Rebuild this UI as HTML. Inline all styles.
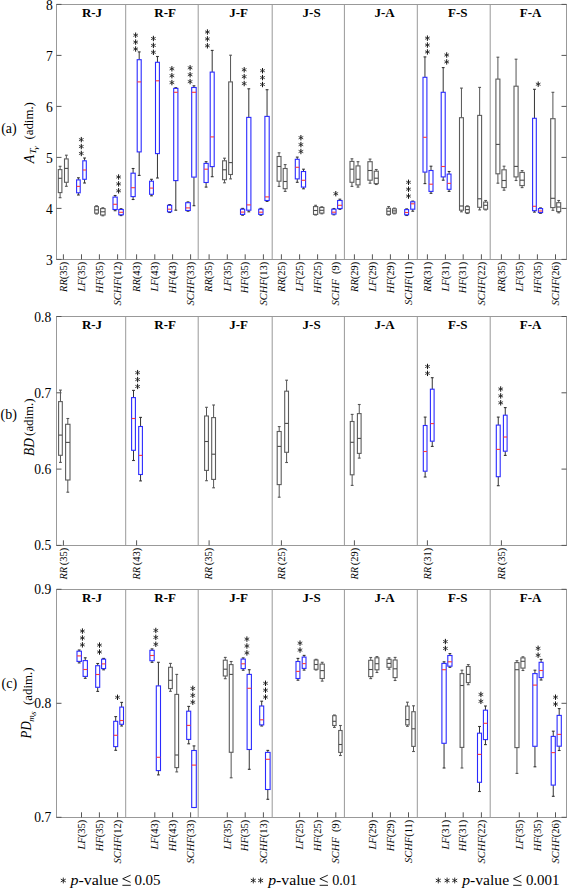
<!DOCTYPE html><html><head><meta charset="utf-8"><title>Box plots</title><style>html,body{margin:0;padding:0;background:#fff;width:568px;height:888px;overflow:hidden}svg{display:block}</style></head><body><svg width="568" height="888" viewBox="0 0 568 888">
<style>text{font-family:"Liberation Serif",serif;fill:#000}.yl{font-size:13.6px;text-anchor:end}.tt{font-size:13px;font-weight:bold;text-anchor:middle}.xl{font-size:10.5px;text-anchor:end}.it{font-style:italic}.lab{font-size:14px}.ax{font-size:13.5px}.ft{font-size:15px}</style>
<rect width="568" height="888" fill="#fff"/>
<rect x="56.5" y="4.5" width="510.0" height="255.0" fill="none" stroke="#999" stroke-width="1"/>
<line x1="125.70" y1="4.50" x2="125.70" y2="259.50" stroke="#999" stroke-width="1.0" />
<line x1="198.20" y1="4.50" x2="198.20" y2="259.50" stroke="#999" stroke-width="1.0" />
<line x1="272.20" y1="4.50" x2="272.20" y2="259.50" stroke="#999" stroke-width="1.0" />
<line x1="344.40" y1="4.50" x2="344.40" y2="259.50" stroke="#999" stroke-width="1.0" />
<line x1="417.30" y1="4.50" x2="417.30" y2="259.50" stroke="#999" stroke-width="1.0" />
<line x1="490.20" y1="4.50" x2="490.20" y2="259.50" stroke="#999" stroke-width="1.0" />
<line x1="56.50" y1="259.40" x2="61.50" y2="259.40" stroke="#555" stroke-width="1.0" />
<line x1="561.50" y1="259.40" x2="566.50" y2="259.40" stroke="#555" stroke-width="1.0" />
<text x="52.7" y="264.80" class="yl">3</text>
<line x1="56.50" y1="208.40" x2="61.50" y2="208.40" stroke="#555" stroke-width="1.0" />
<line x1="561.50" y1="208.40" x2="566.50" y2="208.40" stroke="#555" stroke-width="1.0" />
<text x="52.7" y="213.80" class="yl">4</text>
<line x1="56.50" y1="157.40" x2="61.50" y2="157.40" stroke="#555" stroke-width="1.0" />
<line x1="561.50" y1="157.40" x2="566.50" y2="157.40" stroke="#555" stroke-width="1.0" />
<text x="52.7" y="162.80" class="yl">5</text>
<line x1="56.50" y1="106.40" x2="61.50" y2="106.40" stroke="#555" stroke-width="1.0" />
<line x1="561.50" y1="106.40" x2="566.50" y2="106.40" stroke="#555" stroke-width="1.0" />
<text x="52.7" y="111.80" class="yl">6</text>
<line x1="56.50" y1="55.40" x2="61.50" y2="55.40" stroke="#555" stroke-width="1.0" />
<line x1="561.50" y1="55.40" x2="566.50" y2="55.40" stroke="#555" stroke-width="1.0" />
<text x="52.7" y="60.80" class="yl">7</text>
<line x1="56.50" y1="4.40" x2="61.50" y2="4.40" stroke="#555" stroke-width="1.0" />
<line x1="561.50" y1="4.40" x2="566.50" y2="4.40" stroke="#555" stroke-width="1.0" />
<text x="52.7" y="9.80" class="yl">8</text>
<text x="92.0" y="16.6" class="tt">R-J</text>
<text x="165.2" y="16.6" class="tt">R-F</text>
<text x="238.6" y="16.6" class="tt">J-F</text>
<text x="311.6" y="16.6" class="tt">J-S</text>
<text x="384.6" y="16.6" class="tt">J-A</text>
<text x="457.7" y="16.6" class="tt">F-S</text>
<text x="530.6" y="16.6" class="tt">F-A</text>
<rect x="56.5" y="316.5" width="510.0" height="229.0" fill="none" stroke="#999" stroke-width="1"/>
<line x1="125.70" y1="316.50" x2="125.70" y2="545.50" stroke="#999" stroke-width="1.0" />
<line x1="198.20" y1="316.50" x2="198.20" y2="545.50" stroke="#999" stroke-width="1.0" />
<line x1="272.20" y1="316.50" x2="272.20" y2="545.50" stroke="#999" stroke-width="1.0" />
<line x1="344.40" y1="316.50" x2="344.40" y2="545.50" stroke="#999" stroke-width="1.0" />
<line x1="417.30" y1="316.50" x2="417.30" y2="545.50" stroke="#999" stroke-width="1.0" />
<line x1="490.20" y1="316.50" x2="490.20" y2="545.50" stroke="#999" stroke-width="1.0" />
<line x1="56.50" y1="545.40" x2="61.50" y2="545.40" stroke="#555" stroke-width="1.0" />
<line x1="561.50" y1="545.40" x2="566.50" y2="545.40" stroke="#555" stroke-width="1.0" />
<text x="51.2" y="550.40" class="yl">0.5</text>
<line x1="56.50" y1="469.10" x2="61.50" y2="469.10" stroke="#555" stroke-width="1.0" />
<line x1="561.50" y1="469.10" x2="566.50" y2="469.10" stroke="#555" stroke-width="1.0" />
<text x="51.2" y="474.10" class="yl">0.6</text>
<line x1="56.50" y1="392.80" x2="61.50" y2="392.80" stroke="#555" stroke-width="1.0" />
<line x1="561.50" y1="392.80" x2="566.50" y2="392.80" stroke="#555" stroke-width="1.0" />
<text x="51.2" y="397.80" class="yl">0.7</text>
<line x1="56.50" y1="316.50" x2="61.50" y2="316.50" stroke="#555" stroke-width="1.0" />
<line x1="561.50" y1="316.50" x2="566.50" y2="316.50" stroke="#555" stroke-width="1.0" />
<text x="51.2" y="321.50" class="yl">0.8</text>
<text x="92.0" y="328.6" class="tt">R-J</text>
<text x="165.2" y="328.6" class="tt">R-F</text>
<text x="238.6" y="328.6" class="tt">J-F</text>
<text x="311.6" y="328.6" class="tt">J-S</text>
<text x="384.6" y="328.6" class="tt">J-A</text>
<text x="457.7" y="328.6" class="tt">F-S</text>
<text x="530.6" y="328.6" class="tt">F-A</text>
<rect x="56.5" y="589.5" width="510.0" height="228.0" fill="none" stroke="#999" stroke-width="1"/>
<line x1="125.70" y1="589.50" x2="125.70" y2="817.50" stroke="#999" stroke-width="1.0" />
<line x1="198.20" y1="589.50" x2="198.20" y2="817.50" stroke="#999" stroke-width="1.0" />
<line x1="272.20" y1="589.50" x2="272.20" y2="817.50" stroke="#999" stroke-width="1.0" />
<line x1="344.40" y1="589.50" x2="344.40" y2="817.50" stroke="#999" stroke-width="1.0" />
<line x1="417.30" y1="589.50" x2="417.30" y2="817.50" stroke="#999" stroke-width="1.0" />
<line x1="490.20" y1="589.50" x2="490.20" y2="817.50" stroke="#999" stroke-width="1.0" />
<line x1="56.50" y1="817.30" x2="61.50" y2="817.30" stroke="#555" stroke-width="1.0" />
<line x1="561.50" y1="817.30" x2="566.50" y2="817.30" stroke="#555" stroke-width="1.0" />
<text x="51.2" y="822.30" class="yl">0.7</text>
<line x1="56.50" y1="703.30" x2="61.50" y2="703.30" stroke="#555" stroke-width="1.0" />
<line x1="561.50" y1="703.30" x2="566.50" y2="703.30" stroke="#555" stroke-width="1.0" />
<text x="51.2" y="708.30" class="yl">0.8</text>
<line x1="56.50" y1="589.30" x2="61.50" y2="589.30" stroke="#555" stroke-width="1.0" />
<line x1="561.50" y1="589.30" x2="566.50" y2="589.30" stroke="#555" stroke-width="1.0" />
<text x="51.2" y="594.30" class="yl">0.9</text>
<text x="92.0" y="601.6" class="tt">R-J</text>
<text x="165.2" y="601.6" class="tt">R-F</text>
<text x="238.6" y="601.6" class="tt">J-F</text>
<text x="311.6" y="601.6" class="tt">J-S</text>
<text x="384.6" y="601.6" class="tt">J-A</text>
<text x="457.7" y="601.6" class="tt">F-S</text>
<text x="530.6" y="601.6" class="tt">F-A</text>
<line x1="63.40" y1="254.30" x2="63.40" y2="259.50" stroke="#555" stroke-width="1.0" />
<line x1="81.50" y1="254.30" x2="81.50" y2="259.50" stroke="#555" stroke-width="1.0" />
<line x1="99.40" y1="254.30" x2="99.40" y2="259.50" stroke="#555" stroke-width="1.0" />
<line x1="117.60" y1="254.30" x2="117.60" y2="259.50" stroke="#555" stroke-width="1.0" />
<line x1="136.60" y1="254.30" x2="136.60" y2="259.50" stroke="#555" stroke-width="1.0" />
<line x1="154.80" y1="254.30" x2="154.80" y2="259.50" stroke="#555" stroke-width="1.0" />
<line x1="172.60" y1="254.30" x2="172.60" y2="259.50" stroke="#555" stroke-width="1.0" />
<line x1="190.60" y1="254.30" x2="190.60" y2="259.50" stroke="#555" stroke-width="1.0" />
<line x1="209.10" y1="254.30" x2="209.10" y2="259.50" stroke="#555" stroke-width="1.0" />
<line x1="227.30" y1="254.30" x2="227.30" y2="259.50" stroke="#555" stroke-width="1.0" />
<line x1="245.20" y1="254.30" x2="245.20" y2="259.50" stroke="#555" stroke-width="1.0" />
<line x1="263.40" y1="254.30" x2="263.40" y2="259.50" stroke="#555" stroke-width="1.0" />
<line x1="281.40" y1="254.30" x2="281.40" y2="259.50" stroke="#555" stroke-width="1.0" />
<line x1="299.60" y1="254.30" x2="299.60" y2="259.50" stroke="#555" stroke-width="1.0" />
<line x1="317.60" y1="254.30" x2="317.60" y2="259.50" stroke="#555" stroke-width="1.0" />
<line x1="335.80" y1="254.30" x2="335.80" y2="259.50" stroke="#555" stroke-width="1.0" />
<line x1="354.40" y1="254.30" x2="354.40" y2="259.50" stroke="#555" stroke-width="1.0" />
<line x1="372.40" y1="254.30" x2="372.40" y2="259.50" stroke="#555" stroke-width="1.0" />
<line x1="390.40" y1="254.30" x2="390.40" y2="259.50" stroke="#555" stroke-width="1.0" />
<line x1="408.50" y1="254.30" x2="408.50" y2="259.50" stroke="#555" stroke-width="1.0" />
<line x1="427.40" y1="254.30" x2="427.40" y2="259.50" stroke="#555" stroke-width="1.0" />
<line x1="445.40" y1="254.30" x2="445.40" y2="259.50" stroke="#555" stroke-width="1.0" />
<line x1="463.20" y1="254.30" x2="463.20" y2="259.50" stroke="#555" stroke-width="1.0" />
<line x1="481.40" y1="254.30" x2="481.40" y2="259.50" stroke="#555" stroke-width="1.0" />
<line x1="501.40" y1="254.30" x2="501.40" y2="259.50" stroke="#555" stroke-width="1.0" />
<line x1="519.30" y1="254.30" x2="519.30" y2="259.50" stroke="#555" stroke-width="1.0" />
<line x1="537.40" y1="254.30" x2="537.40" y2="259.50" stroke="#555" stroke-width="1.0" />
<line x1="555.50" y1="254.30" x2="555.50" y2="259.50" stroke="#555" stroke-width="1.0" />
<line x1="63.40" y1="540.30" x2="63.40" y2="545.50" stroke="#555" stroke-width="1.0" />
<line x1="136.60" y1="540.30" x2="136.60" y2="545.50" stroke="#555" stroke-width="1.0" />
<line x1="209.10" y1="540.30" x2="209.10" y2="545.50" stroke="#555" stroke-width="1.0" />
<line x1="281.40" y1="540.30" x2="281.40" y2="545.50" stroke="#555" stroke-width="1.0" />
<line x1="354.40" y1="540.30" x2="354.40" y2="545.50" stroke="#555" stroke-width="1.0" />
<line x1="427.40" y1="540.30" x2="427.40" y2="545.50" stroke="#555" stroke-width="1.0" />
<line x1="501.40" y1="540.30" x2="501.40" y2="545.50" stroke="#555" stroke-width="1.0" />
<line x1="81.50" y1="812.30" x2="81.50" y2="817.50" stroke="#555" stroke-width="1.0" />
<line x1="99.40" y1="812.30" x2="99.40" y2="817.50" stroke="#555" stroke-width="1.0" />
<line x1="117.60" y1="812.30" x2="117.60" y2="817.50" stroke="#555" stroke-width="1.0" />
<line x1="154.80" y1="812.30" x2="154.80" y2="817.50" stroke="#555" stroke-width="1.0" />
<line x1="172.60" y1="812.30" x2="172.60" y2="817.50" stroke="#555" stroke-width="1.0" />
<line x1="190.60" y1="812.30" x2="190.60" y2="817.50" stroke="#555" stroke-width="1.0" />
<line x1="227.30" y1="812.30" x2="227.30" y2="817.50" stroke="#555" stroke-width="1.0" />
<line x1="245.20" y1="812.30" x2="245.20" y2="817.50" stroke="#555" stroke-width="1.0" />
<line x1="263.40" y1="812.30" x2="263.40" y2="817.50" stroke="#555" stroke-width="1.0" />
<line x1="299.60" y1="812.30" x2="299.60" y2="817.50" stroke="#555" stroke-width="1.0" />
<line x1="317.60" y1="812.30" x2="317.60" y2="817.50" stroke="#555" stroke-width="1.0" />
<line x1="335.80" y1="812.30" x2="335.80" y2="817.50" stroke="#555" stroke-width="1.0" />
<line x1="372.40" y1="812.30" x2="372.40" y2="817.50" stroke="#555" stroke-width="1.0" />
<line x1="390.40" y1="812.30" x2="390.40" y2="817.50" stroke="#555" stroke-width="1.0" />
<line x1="408.50" y1="812.30" x2="408.50" y2="817.50" stroke="#555" stroke-width="1.0" />
<line x1="445.40" y1="812.30" x2="445.40" y2="817.50" stroke="#555" stroke-width="1.0" />
<line x1="463.20" y1="812.30" x2="463.20" y2="817.50" stroke="#555" stroke-width="1.0" />
<line x1="481.40" y1="812.30" x2="481.40" y2="817.50" stroke="#555" stroke-width="1.0" />
<line x1="519.30" y1="812.30" x2="519.30" y2="817.50" stroke="#555" stroke-width="1.0" />
<line x1="537.40" y1="812.30" x2="537.40" y2="817.50" stroke="#555" stroke-width="1.0" />
<line x1="555.50" y1="812.30" x2="555.50" y2="817.50" stroke="#555" stroke-width="1.0" />
<line x1="60.10" y1="166.30" x2="60.10" y2="169.60" stroke="#555" stroke-width="1.0" />
<line x1="60.10" y1="192.60" x2="60.10" y2="197.70" stroke="#555" stroke-width="1.0" />
<line x1="58.70" y1="166.30" x2="61.50" y2="166.30" stroke="#555" stroke-width="1.1" />
<line x1="58.70" y1="197.70" x2="61.50" y2="197.70" stroke="#555" stroke-width="1.1" />
<rect x="58.30" y="169.60" width="3.60" height="23.00" fill="#fff" stroke="#5c5c5c" stroke-width="1.1"/>
<line x1="58.40" y1="178.30" x2="61.80" y2="178.30" stroke="#4a4a4a" stroke-width="1.1" />
<line x1="66.35" y1="155.20" x2="66.35" y2="158.90" stroke="#555" stroke-width="1.0" />
<line x1="66.35" y1="182.30" x2="66.35" y2="186.30" stroke="#555" stroke-width="1.0" />
<line x1="64.95" y1="155.20" x2="67.75" y2="155.20" stroke="#555" stroke-width="1.1" />
<line x1="64.95" y1="186.30" x2="67.75" y2="186.30" stroke="#555" stroke-width="1.1" />
<rect x="64.50" y="158.90" width="3.70" height="23.40" fill="#fff" stroke="#5c5c5c" stroke-width="1.1"/>
<line x1="64.60" y1="168.40" x2="68.10" y2="168.40" stroke="#4a4a4a" stroke-width="1.1" />
<line x1="78.40" y1="177.80" x2="78.40" y2="179.90" stroke="#333" stroke-width="1.0" />
<line x1="78.40" y1="192.80" x2="78.40" y2="195.00" stroke="#333" stroke-width="1.0" />
<line x1="77.00" y1="177.80" x2="79.80" y2="177.80" stroke="#333" stroke-width="1.1" />
<line x1="77.00" y1="195.00" x2="79.80" y2="195.00" stroke="#333" stroke-width="1.1" />
<rect x="76.60" y="179.90" width="3.60" height="12.90" fill="#fff" stroke="#2a2aff" stroke-width="1.1"/>
<line x1="76.70" y1="186.40" x2="80.10" y2="186.40" stroke="#ff3a3a" stroke-width="1.1" />
<line x1="84.55" y1="158.00" x2="84.55" y2="160.80" stroke="#333" stroke-width="1.0" />
<line x1="84.55" y1="179.30" x2="84.55" y2="183.00" stroke="#333" stroke-width="1.0" />
<line x1="83.15" y1="158.00" x2="85.95" y2="158.00" stroke="#333" stroke-width="1.1" />
<line x1="83.15" y1="183.00" x2="85.95" y2="183.00" stroke="#333" stroke-width="1.1" />
<rect x="82.80" y="160.80" width="3.50" height="18.50" fill="#fff" stroke="#2a2aff" stroke-width="1.1"/>
<line x1="82.90" y1="170.00" x2="86.20" y2="170.00" stroke="#ff3a3a" stroke-width="1.1" />
<line x1="96.55" y1="205.80" x2="96.55" y2="206.60" stroke="#555" stroke-width="1.0" />
<line x1="96.55" y1="213.20" x2="96.55" y2="214.00" stroke="#555" stroke-width="1.0" />
<line x1="95.15" y1="205.80" x2="97.95" y2="205.80" stroke="#555" stroke-width="1.1" />
<line x1="95.15" y1="214.00" x2="97.95" y2="214.00" stroke="#555" stroke-width="1.1" />
<rect x="94.70" y="206.60" width="3.70" height="6.60" fill="#fff" stroke="#5c5c5c" stroke-width="1.1"/>
<line x1="94.80" y1="209.90" x2="98.30" y2="209.90" stroke="#4a4a4a" stroke-width="1.1" />
<line x1="102.85" y1="207.80" x2="102.85" y2="208.60" stroke="#555" stroke-width="1.0" />
<line x1="102.85" y1="215.00" x2="102.85" y2="215.80" stroke="#555" stroke-width="1.0" />
<line x1="101.45" y1="207.80" x2="104.25" y2="207.80" stroke="#555" stroke-width="1.1" />
<line x1="101.45" y1="215.80" x2="104.25" y2="215.80" stroke="#555" stroke-width="1.1" />
<rect x="100.60" y="208.60" width="4.50" height="6.40" fill="#fff" stroke="#5c5c5c" stroke-width="1.1"/>
<line x1="100.70" y1="211.80" x2="105.00" y2="211.80" stroke="#4a4a4a" stroke-width="1.1" />
<line x1="115.10" y1="195.50" x2="115.10" y2="197.10" stroke="#333" stroke-width="1.0" />
<line x1="115.10" y1="209.50" x2="115.10" y2="210.70" stroke="#333" stroke-width="1.0" />
<line x1="113.70" y1="195.50" x2="116.50" y2="195.50" stroke="#333" stroke-width="1.1" />
<line x1="113.70" y1="210.70" x2="116.50" y2="210.70" stroke="#333" stroke-width="1.1" />
<rect x="113.00" y="197.10" width="4.20" height="12.40" fill="#fff" stroke="#2a2aff" stroke-width="1.1"/>
<line x1="113.10" y1="204.30" x2="117.10" y2="204.30" stroke="#ff3a3a" stroke-width="1.1" />
<line x1="121.05" y1="208.70" x2="121.05" y2="209.50" stroke="#333" stroke-width="1.0" />
<line x1="121.05" y1="214.80" x2="121.05" y2="215.60" stroke="#333" stroke-width="1.0" />
<line x1="119.65" y1="208.70" x2="122.45" y2="208.70" stroke="#333" stroke-width="1.1" />
<line x1="119.65" y1="215.60" x2="122.45" y2="215.60" stroke="#333" stroke-width="1.1" />
<rect x="118.80" y="209.50" width="4.50" height="5.30" fill="#fff" stroke="#2a2aff" stroke-width="1.1"/>
<line x1="118.90" y1="212.30" x2="123.20" y2="212.30" stroke="#ff3a3a" stroke-width="1.1" />
<line x1="133.10" y1="168.50" x2="133.10" y2="173.20" stroke="#333" stroke-width="1.0" />
<line x1="133.10" y1="196.60" x2="133.10" y2="199.50" stroke="#333" stroke-width="1.0" />
<line x1="131.70" y1="168.50" x2="134.50" y2="168.50" stroke="#333" stroke-width="1.1" />
<line x1="131.70" y1="199.50" x2="134.50" y2="199.50" stroke="#333" stroke-width="1.1" />
<rect x="131.00" y="173.20" width="4.20" height="23.40" fill="#fff" stroke="#2a2aff" stroke-width="1.1"/>
<line x1="131.10" y1="187.70" x2="135.10" y2="187.70" stroke="#ff3a3a" stroke-width="1.1" />
<line x1="139.20" y1="51.90" x2="139.20" y2="59.70" stroke="#333" stroke-width="1.0" />
<line x1="139.20" y1="151.90" x2="139.20" y2="175.40" stroke="#333" stroke-width="1.0" />
<line x1="137.80" y1="51.90" x2="140.60" y2="51.90" stroke="#333" stroke-width="1.1" />
<line x1="137.80" y1="175.40" x2="140.60" y2="175.40" stroke="#333" stroke-width="1.1" />
<rect x="137.20" y="59.70" width="4.00" height="92.20" fill="#fff" stroke="#2a2aff" stroke-width="1.1"/>
<line x1="137.30" y1="81.90" x2="141.10" y2="81.90" stroke="#ff3a3a" stroke-width="1.1" />
<line x1="151.50" y1="179.30" x2="151.50" y2="181.20" stroke="#333" stroke-width="1.0" />
<line x1="151.50" y1="194.30" x2="151.50" y2="195.80" stroke="#333" stroke-width="1.0" />
<line x1="150.10" y1="179.30" x2="152.90" y2="179.30" stroke="#333" stroke-width="1.1" />
<line x1="150.10" y1="195.80" x2="152.90" y2="195.80" stroke="#333" stroke-width="1.1" />
<rect x="149.60" y="181.20" width="3.80" height="13.10" fill="#fff" stroke="#2a2aff" stroke-width="1.1"/>
<line x1="149.70" y1="188.10" x2="153.30" y2="188.10" stroke="#ff3a3a" stroke-width="1.1" />
<line x1="157.45" y1="56.50" x2="157.45" y2="62.30" stroke="#333" stroke-width="1.0" />
<line x1="157.45" y1="153.60" x2="157.45" y2="178.00" stroke="#333" stroke-width="1.0" />
<line x1="156.05" y1="56.50" x2="158.85" y2="56.50" stroke="#333" stroke-width="1.1" />
<line x1="156.05" y1="178.00" x2="158.85" y2="178.00" stroke="#333" stroke-width="1.1" />
<rect x="155.50" y="62.30" width="3.90" height="91.30" fill="#fff" stroke="#2a2aff" stroke-width="1.1"/>
<line x1="155.60" y1="80.80" x2="159.30" y2="80.80" stroke="#ff3a3a" stroke-width="1.1" />
<line x1="169.60" y1="204.60" x2="169.60" y2="205.30" stroke="#333" stroke-width="1.0" />
<line x1="169.60" y1="211.80" x2="169.60" y2="212.50" stroke="#333" stroke-width="1.0" />
<line x1="168.20" y1="204.60" x2="171.00" y2="204.60" stroke="#333" stroke-width="1.1" />
<line x1="168.20" y1="212.50" x2="171.00" y2="212.50" stroke="#333" stroke-width="1.1" />
<rect x="167.50" y="205.30" width="4.20" height="6.50" fill="#fff" stroke="#2a2aff" stroke-width="1.1"/>
<line x1="167.60" y1="209.20" x2="171.60" y2="209.20" stroke="#ff3a3a" stroke-width="1.1" />
<line x1="175.80" y1="87.70" x2="175.80" y2="88.40" stroke="#333" stroke-width="1.0" />
<line x1="175.80" y1="180.60" x2="175.80" y2="210.20" stroke="#333" stroke-width="1.0" />
<line x1="174.40" y1="87.70" x2="177.20" y2="87.70" stroke="#333" stroke-width="1.1" />
<line x1="174.40" y1="210.20" x2="177.20" y2="210.20" stroke="#333" stroke-width="1.1" />
<rect x="173.70" y="88.40" width="4.20" height="92.20" fill="#fff" stroke="#2a2aff" stroke-width="1.1"/>
<line x1="173.80" y1="92.30" x2="177.80" y2="92.30" stroke="#ff3a3a" stroke-width="1.1" />
<line x1="188.00" y1="201.90" x2="188.00" y2="202.70" stroke="#333" stroke-width="1.0" />
<line x1="188.00" y1="210.50" x2="188.00" y2="211.20" stroke="#333" stroke-width="1.0" />
<line x1="186.60" y1="201.90" x2="189.40" y2="201.90" stroke="#333" stroke-width="1.1" />
<line x1="186.60" y1="211.20" x2="189.40" y2="211.20" stroke="#333" stroke-width="1.1" />
<rect x="185.70" y="202.70" width="4.60" height="7.80" fill="#fff" stroke="#2a2aff" stroke-width="1.1"/>
<line x1="185.80" y1="207.90" x2="190.20" y2="207.90" stroke="#ff3a3a" stroke-width="1.1" />
<line x1="193.95" y1="85.80" x2="193.95" y2="87.50" stroke="#333" stroke-width="1.0" />
<line x1="193.95" y1="177.10" x2="193.95" y2="205.70" stroke="#333" stroke-width="1.0" />
<line x1="192.55" y1="85.80" x2="195.35" y2="85.80" stroke="#333" stroke-width="1.1" />
<line x1="192.55" y1="205.70" x2="195.35" y2="205.70" stroke="#333" stroke-width="1.1" />
<rect x="191.70" y="87.50" width="4.50" height="89.60" fill="#fff" stroke="#2a2aff" stroke-width="1.1"/>
<line x1="191.80" y1="92.30" x2="196.10" y2="92.30" stroke="#ff3a3a" stroke-width="1.1" />
<line x1="206.10" y1="161.70" x2="206.10" y2="163.40" stroke="#333" stroke-width="1.0" />
<line x1="206.10" y1="182.50" x2="206.10" y2="187.10" stroke="#333" stroke-width="1.0" />
<line x1="204.70" y1="161.70" x2="207.50" y2="161.70" stroke="#333" stroke-width="1.1" />
<line x1="204.70" y1="187.10" x2="207.50" y2="187.10" stroke="#333" stroke-width="1.1" />
<rect x="204.00" y="163.40" width="4.20" height="19.10" fill="#fff" stroke="#2a2aff" stroke-width="1.1"/>
<line x1="204.10" y1="169.20" x2="208.10" y2="169.20" stroke="#ff3a3a" stroke-width="1.1" />
<line x1="212.20" y1="50.40" x2="212.20" y2="72.10" stroke="#333" stroke-width="1.0" />
<line x1="212.20" y1="166.60" x2="212.20" y2="176.70" stroke="#333" stroke-width="1.0" />
<line x1="210.80" y1="50.40" x2="213.60" y2="50.40" stroke="#333" stroke-width="1.1" />
<line x1="210.80" y1="176.70" x2="213.60" y2="176.70" stroke="#333" stroke-width="1.1" />
<rect x="210.20" y="72.10" width="4.00" height="94.50" fill="#fff" stroke="#2a2aff" stroke-width="1.1"/>
<line x1="210.30" y1="136.90" x2="214.10" y2="136.90" stroke="#ff3a3a" stroke-width="1.1" />
<line x1="224.50" y1="158.20" x2="224.50" y2="160.80" stroke="#555" stroke-width="1.0" />
<line x1="224.50" y1="179.70" x2="224.50" y2="182.80" stroke="#555" stroke-width="1.0" />
<line x1="223.10" y1="158.20" x2="225.90" y2="158.20" stroke="#555" stroke-width="1.1" />
<line x1="223.10" y1="182.80" x2="225.90" y2="182.80" stroke="#555" stroke-width="1.1" />
<rect x="222.60" y="160.80" width="3.80" height="18.90" fill="#fff" stroke="#5c5c5c" stroke-width="1.1"/>
<line x1="222.70" y1="169.80" x2="226.30" y2="169.80" stroke="#4a4a4a" stroke-width="1.1" />
<line x1="230.55" y1="55.20" x2="230.55" y2="81.90" stroke="#555" stroke-width="1.0" />
<line x1="230.55" y1="174.50" x2="230.55" y2="178.90" stroke="#555" stroke-width="1.0" />
<line x1="229.15" y1="55.20" x2="231.95" y2="55.20" stroke="#555" stroke-width="1.1" />
<line x1="229.15" y1="178.90" x2="231.95" y2="178.90" stroke="#555" stroke-width="1.1" />
<rect x="228.70" y="81.90" width="3.70" height="92.60" fill="#fff" stroke="#5c5c5c" stroke-width="1.1"/>
<line x1="228.80" y1="162.60" x2="232.30" y2="162.60" stroke="#4a4a4a" stroke-width="1.1" />
<line x1="242.60" y1="208.40" x2="242.60" y2="209.20" stroke="#333" stroke-width="1.0" />
<line x1="242.60" y1="214.40" x2="242.60" y2="215.20" stroke="#333" stroke-width="1.0" />
<line x1="241.20" y1="208.40" x2="244.00" y2="208.40" stroke="#333" stroke-width="1.1" />
<line x1="241.20" y1="215.20" x2="244.00" y2="215.20" stroke="#333" stroke-width="1.1" />
<rect x="240.50" y="209.20" width="4.20" height="5.20" fill="#fff" stroke="#2a2aff" stroke-width="1.1"/>
<line x1="240.60" y1="212.10" x2="244.60" y2="212.10" stroke="#ff3a3a" stroke-width="1.1" />
<line x1="248.80" y1="88.80" x2="248.80" y2="117.40" stroke="#333" stroke-width="1.0" />
<line x1="248.80" y1="210.20" x2="248.80" y2="211.80" stroke="#333" stroke-width="1.0" />
<line x1="247.40" y1="88.80" x2="250.20" y2="88.80" stroke="#333" stroke-width="1.1" />
<line x1="247.40" y1="211.80" x2="250.20" y2="211.80" stroke="#333" stroke-width="1.1" />
<rect x="246.70" y="117.40" width="4.20" height="92.80" fill="#fff" stroke="#2a2aff" stroke-width="1.1"/>
<line x1="246.80" y1="204.90" x2="250.80" y2="204.90" stroke="#ff3a3a" stroke-width="1.1" />
<line x1="260.85" y1="208.40" x2="260.85" y2="209.20" stroke="#333" stroke-width="1.0" />
<line x1="260.85" y1="214.40" x2="260.85" y2="215.20" stroke="#333" stroke-width="1.0" />
<line x1="259.45" y1="208.40" x2="262.25" y2="208.40" stroke="#333" stroke-width="1.1" />
<line x1="259.45" y1="215.20" x2="262.25" y2="215.20" stroke="#333" stroke-width="1.1" />
<rect x="258.70" y="209.20" width="4.30" height="5.20" fill="#fff" stroke="#2a2aff" stroke-width="1.1"/>
<line x1="258.80" y1="212.20" x2="262.90" y2="212.20" stroke="#ff3a3a" stroke-width="1.1" />
<line x1="267.05" y1="89.70" x2="267.05" y2="116.40" stroke="#333" stroke-width="1.0" />
<line x1="267.05" y1="200.50" x2="267.05" y2="201.40" stroke="#333" stroke-width="1.0" />
<line x1="265.65" y1="89.70" x2="268.45" y2="89.70" stroke="#333" stroke-width="1.1" />
<line x1="265.65" y1="201.40" x2="268.45" y2="201.40" stroke="#333" stroke-width="1.1" />
<rect x="264.90" y="116.40" width="4.30" height="84.10" fill="#fff" stroke="#2a2aff" stroke-width="1.1"/>
<line x1="265.00" y1="196.90" x2="269.10" y2="196.90" stroke="#ff3a3a" stroke-width="1.1" />
<line x1="279.05" y1="152.80" x2="279.05" y2="156.50" stroke="#555" stroke-width="1.0" />
<line x1="279.05" y1="181.20" x2="279.05" y2="186.40" stroke="#555" stroke-width="1.0" />
<line x1="277.65" y1="152.80" x2="280.45" y2="152.80" stroke="#555" stroke-width="1.1" />
<line x1="277.65" y1="186.40" x2="280.45" y2="186.40" stroke="#555" stroke-width="1.1" />
<rect x="277.10" y="156.50" width="3.90" height="24.70" fill="#fff" stroke="#5c5c5c" stroke-width="1.1"/>
<line x1="277.20" y1="166.50" x2="280.90" y2="166.50" stroke="#4a4a4a" stroke-width="1.1" />
<line x1="285.15" y1="164.60" x2="285.15" y2="168.50" stroke="#555" stroke-width="1.0" />
<line x1="285.15" y1="188.70" x2="285.15" y2="191.40" stroke="#555" stroke-width="1.0" />
<line x1="283.75" y1="164.60" x2="286.55" y2="164.60" stroke="#555" stroke-width="1.1" />
<line x1="283.75" y1="191.40" x2="286.55" y2="191.40" stroke="#555" stroke-width="1.1" />
<rect x="283.20" y="168.50" width="3.90" height="20.20" fill="#fff" stroke="#5c5c5c" stroke-width="1.1"/>
<line x1="283.30" y1="181.50" x2="287.00" y2="181.50" stroke="#4a4a4a" stroke-width="1.1" />
<line x1="297.25" y1="157.10" x2="297.25" y2="159.30" stroke="#333" stroke-width="1.0" />
<line x1="297.25" y1="178.90" x2="297.25" y2="182.30" stroke="#333" stroke-width="1.0" />
<line x1="295.85" y1="157.10" x2="298.65" y2="157.10" stroke="#333" stroke-width="1.1" />
<line x1="295.85" y1="182.30" x2="298.65" y2="182.30" stroke="#333" stroke-width="1.1" />
<rect x="295.30" y="159.30" width="3.90" height="19.60" fill="#fff" stroke="#2a2aff" stroke-width="1.1"/>
<line x1="295.40" y1="167.30" x2="299.10" y2="167.30" stroke="#ff3a3a" stroke-width="1.1" />
<line x1="303.50" y1="169.20" x2="303.50" y2="171.50" stroke="#333" stroke-width="1.0" />
<line x1="303.50" y1="187.10" x2="303.50" y2="188.80" stroke="#333" stroke-width="1.0" />
<line x1="302.10" y1="169.20" x2="304.90" y2="169.20" stroke="#333" stroke-width="1.1" />
<line x1="302.10" y1="188.80" x2="304.90" y2="188.80" stroke="#333" stroke-width="1.1" />
<rect x="301.40" y="171.50" width="4.20" height="15.60" fill="#fff" stroke="#2a2aff" stroke-width="1.1"/>
<line x1="301.50" y1="180.30" x2="305.50" y2="180.30" stroke="#ff3a3a" stroke-width="1.1" />
<line x1="315.60" y1="205.30" x2="315.60" y2="206.60" stroke="#555" stroke-width="1.0" />
<line x1="314.20" y1="205.30" x2="317.00" y2="205.30" stroke="#555" stroke-width="1.1" />
<line x1="314.20" y1="215.00" x2="317.00" y2="215.00" stroke="#555" stroke-width="1.1" />
<rect x="313.50" y="206.60" width="4.20" height="7.80" fill="#fff" stroke="#5c5c5c" stroke-width="1.1"/>
<line x1="313.60" y1="210.50" x2="317.60" y2="210.50" stroke="#4a4a4a" stroke-width="1.1" />
<line x1="321.80" y1="206.80" x2="321.80" y2="207.50" stroke="#555" stroke-width="1.0" />
<line x1="321.80" y1="213.10" x2="321.80" y2="213.80" stroke="#555" stroke-width="1.0" />
<line x1="320.40" y1="206.80" x2="323.20" y2="206.80" stroke="#555" stroke-width="1.1" />
<line x1="320.40" y1="213.80" x2="323.20" y2="213.80" stroke="#555" stroke-width="1.1" />
<rect x="319.70" y="207.50" width="4.20" height="5.60" fill="#fff" stroke="#5c5c5c" stroke-width="1.1"/>
<line x1="319.80" y1="210.30" x2="323.80" y2="210.30" stroke="#4a4a4a" stroke-width="1.1" />
<line x1="333.90" y1="208.50" x2="333.90" y2="209.20" stroke="#333" stroke-width="1.0" />
<line x1="333.90" y1="214.10" x2="333.90" y2="214.80" stroke="#333" stroke-width="1.0" />
<line x1="332.50" y1="208.50" x2="335.30" y2="208.50" stroke="#333" stroke-width="1.1" />
<line x1="332.50" y1="214.80" x2="335.30" y2="214.80" stroke="#333" stroke-width="1.1" />
<rect x="331.80" y="209.20" width="4.20" height="4.90" fill="#fff" stroke="#2a2aff" stroke-width="1.1"/>
<line x1="331.90" y1="212.20" x2="335.90" y2="212.20" stroke="#ff3a3a" stroke-width="1.1" />
<line x1="339.85" y1="199.20" x2="339.85" y2="200.50" stroke="#333" stroke-width="1.0" />
<line x1="339.85" y1="208.60" x2="339.85" y2="209.30" stroke="#333" stroke-width="1.0" />
<line x1="338.45" y1="199.20" x2="341.25" y2="199.20" stroke="#333" stroke-width="1.1" />
<line x1="338.45" y1="209.30" x2="341.25" y2="209.30" stroke="#333" stroke-width="1.1" />
<rect x="337.60" y="200.50" width="4.50" height="8.10" fill="#fff" stroke="#2a2aff" stroke-width="1.1"/>
<line x1="337.70" y1="205.30" x2="342.00" y2="205.30" stroke="#ff3a3a" stroke-width="1.1" />
<line x1="351.95" y1="158.80" x2="351.95" y2="161.40" stroke="#555" stroke-width="1.0" />
<line x1="351.95" y1="182.30" x2="351.95" y2="186.40" stroke="#555" stroke-width="1.0" />
<line x1="350.55" y1="158.80" x2="353.35" y2="158.80" stroke="#555" stroke-width="1.1" />
<line x1="350.55" y1="186.40" x2="353.35" y2="186.40" stroke="#555" stroke-width="1.1" />
<rect x="350.00" y="161.40" width="3.90" height="20.90" fill="#fff" stroke="#5c5c5c" stroke-width="1.1"/>
<line x1="350.10" y1="169.20" x2="353.80" y2="169.20" stroke="#4a4a4a" stroke-width="1.1" />
<line x1="358.00" y1="161.70" x2="358.00" y2="165.90" stroke="#555" stroke-width="1.0" />
<line x1="358.00" y1="184.90" x2="358.00" y2="187.10" stroke="#555" stroke-width="1.0" />
<line x1="356.60" y1="161.70" x2="359.40" y2="161.70" stroke="#555" stroke-width="1.1" />
<line x1="356.60" y1="187.10" x2="359.40" y2="187.10" stroke="#555" stroke-width="1.1" />
<rect x="356.00" y="165.90" width="4.00" height="19.00" fill="#fff" stroke="#5c5c5c" stroke-width="1.1"/>
<line x1="356.10" y1="179.30" x2="359.90" y2="179.30" stroke="#4a4a4a" stroke-width="1.1" />
<line x1="370.05" y1="159.10" x2="370.05" y2="161.70" stroke="#555" stroke-width="1.0" />
<line x1="370.05" y1="180.20" x2="370.05" y2="183.20" stroke="#555" stroke-width="1.0" />
<line x1="368.65" y1="159.10" x2="371.45" y2="159.10" stroke="#555" stroke-width="1.1" />
<line x1="368.65" y1="183.20" x2="371.45" y2="183.20" stroke="#555" stroke-width="1.1" />
<rect x="367.90" y="161.70" width="4.30" height="18.50" fill="#fff" stroke="#5c5c5c" stroke-width="1.1"/>
<line x1="368.00" y1="170.50" x2="372.10" y2="170.50" stroke="#4a4a4a" stroke-width="1.1" />
<line x1="376.25" y1="169.50" x2="376.25" y2="171.20" stroke="#555" stroke-width="1.0" />
<line x1="376.25" y1="183.60" x2="376.25" y2="184.50" stroke="#555" stroke-width="1.0" />
<line x1="374.85" y1="169.50" x2="377.65" y2="169.50" stroke="#555" stroke-width="1.1" />
<line x1="374.85" y1="184.50" x2="377.65" y2="184.50" stroke="#555" stroke-width="1.1" />
<rect x="374.20" y="171.20" width="4.10" height="12.40" fill="#fff" stroke="#5c5c5c" stroke-width="1.1"/>
<line x1="374.30" y1="178.20" x2="378.20" y2="178.20" stroke="#4a4a4a" stroke-width="1.1" />
<line x1="388.60" y1="206.60" x2="388.60" y2="208.30" stroke="#555" stroke-width="1.0" />
<line x1="387.20" y1="206.60" x2="390.00" y2="206.60" stroke="#555" stroke-width="1.1" />
<line x1="387.20" y1="215.00" x2="390.00" y2="215.00" stroke="#555" stroke-width="1.1" />
<rect x="386.80" y="208.30" width="3.60" height="6.10" fill="#fff" stroke="#5c5c5c" stroke-width="1.1"/>
<line x1="386.90" y1="211.20" x2="390.30" y2="211.20" stroke="#4a4a4a" stroke-width="1.1" />
<line x1="394.40" y1="208.10" x2="394.40" y2="208.80" stroke="#555" stroke-width="1.0" />
<line x1="394.40" y1="213.10" x2="394.40" y2="213.80" stroke="#555" stroke-width="1.0" />
<line x1="393.00" y1="208.10" x2="395.80" y2="208.10" stroke="#555" stroke-width="1.1" />
<line x1="393.00" y1="213.80" x2="395.80" y2="213.80" stroke="#555" stroke-width="1.1" />
<rect x="392.50" y="208.80" width="3.80" height="4.30" fill="#fff" stroke="#5c5c5c" stroke-width="1.1"/>
<line x1="392.60" y1="210.90" x2="396.20" y2="210.90" stroke="#4a4a4a" stroke-width="1.1" />
<line x1="406.65" y1="208.90" x2="406.65" y2="209.60" stroke="#333" stroke-width="1.0" />
<line x1="406.65" y1="214.80" x2="406.65" y2="215.50" stroke="#333" stroke-width="1.0" />
<line x1="405.25" y1="208.90" x2="408.05" y2="208.90" stroke="#333" stroke-width="1.1" />
<line x1="405.25" y1="215.50" x2="408.05" y2="215.50" stroke="#333" stroke-width="1.1" />
<rect x="404.70" y="209.60" width="3.90" height="5.20" fill="#fff" stroke="#2a2aff" stroke-width="1.1"/>
<line x1="404.80" y1="212.50" x2="408.50" y2="212.50" stroke="#ff3a3a" stroke-width="1.1" />
<line x1="412.75" y1="201.10" x2="412.75" y2="201.80" stroke="#333" stroke-width="1.0" />
<line x1="412.75" y1="209.20" x2="412.75" y2="211.20" stroke="#333" stroke-width="1.0" />
<line x1="411.35" y1="201.10" x2="414.15" y2="201.10" stroke="#333" stroke-width="1.1" />
<line x1="411.35" y1="211.20" x2="414.15" y2="211.20" stroke="#333" stroke-width="1.1" />
<rect x="410.70" y="201.80" width="4.10" height="7.40" fill="#fff" stroke="#2a2aff" stroke-width="1.1"/>
<line x1="410.80" y1="203.80" x2="414.70" y2="203.80" stroke="#ff3a3a" stroke-width="1.1" />
<line x1="424.95" y1="56.90" x2="424.95" y2="77.30" stroke="#333" stroke-width="1.0" />
<line x1="424.95" y1="172.10" x2="424.95" y2="183.60" stroke="#333" stroke-width="1.0" />
<line x1="423.55" y1="56.90" x2="426.35" y2="56.90" stroke="#333" stroke-width="1.1" />
<line x1="423.55" y1="183.60" x2="426.35" y2="183.60" stroke="#333" stroke-width="1.1" />
<rect x="423.00" y="77.30" width="3.90" height="94.80" fill="#fff" stroke="#2a2aff" stroke-width="1.1"/>
<line x1="423.10" y1="137.30" x2="426.80" y2="137.30" stroke="#ff3a3a" stroke-width="1.1" />
<line x1="431.00" y1="166.20" x2="431.00" y2="170.50" stroke="#333" stroke-width="1.0" />
<line x1="431.00" y1="191.40" x2="431.00" y2="193.30" stroke="#333" stroke-width="1.0" />
<line x1="429.60" y1="166.20" x2="432.40" y2="166.20" stroke="#333" stroke-width="1.1" />
<line x1="429.60" y1="193.30" x2="432.40" y2="193.30" stroke="#333" stroke-width="1.1" />
<rect x="429.00" y="170.50" width="4.00" height="20.90" fill="#fff" stroke="#2a2aff" stroke-width="1.1"/>
<line x1="429.10" y1="184.20" x2="432.90" y2="184.20" stroke="#ff3a3a" stroke-width="1.1" />
<line x1="443.20" y1="67.60" x2="443.20" y2="92.30" stroke="#333" stroke-width="1.0" />
<line x1="443.20" y1="176.90" x2="443.20" y2="180.20" stroke="#333" stroke-width="1.0" />
<line x1="441.80" y1="67.60" x2="444.60" y2="67.60" stroke="#333" stroke-width="1.1" />
<line x1="441.80" y1="180.20" x2="444.60" y2="180.20" stroke="#333" stroke-width="1.1" />
<rect x="441.20" y="92.30" width="4.00" height="84.60" fill="#fff" stroke="#2a2aff" stroke-width="1.1"/>
<line x1="441.30" y1="166.50" x2="445.10" y2="166.50" stroke="#ff3a3a" stroke-width="1.1" />
<line x1="449.10" y1="171.50" x2="449.10" y2="174.10" stroke="#333" stroke-width="1.0" />
<line x1="449.10" y1="189.30" x2="449.10" y2="191.40" stroke="#333" stroke-width="1.0" />
<line x1="447.70" y1="171.50" x2="450.50" y2="171.50" stroke="#333" stroke-width="1.1" />
<line x1="447.70" y1="191.40" x2="450.50" y2="191.40" stroke="#333" stroke-width="1.1" />
<rect x="447.20" y="174.10" width="3.80" height="15.20" fill="#fff" stroke="#2a2aff" stroke-width="1.1"/>
<line x1="447.30" y1="183.40" x2="450.90" y2="183.40" stroke="#ff3a3a" stroke-width="1.1" />
<line x1="461.45" y1="88.10" x2="461.45" y2="117.70" stroke="#555" stroke-width="1.0" />
<line x1="461.45" y1="210.20" x2="461.45" y2="211.80" stroke="#555" stroke-width="1.0" />
<line x1="460.05" y1="88.10" x2="462.85" y2="88.10" stroke="#555" stroke-width="1.1" />
<line x1="460.05" y1="211.80" x2="462.85" y2="211.80" stroke="#555" stroke-width="1.1" />
<rect x="459.50" y="117.70" width="3.90" height="92.50" fill="#fff" stroke="#5c5c5c" stroke-width="1.1"/>
<line x1="459.60" y1="206.00" x2="463.30" y2="206.00" stroke="#4a4a4a" stroke-width="1.1" />
<line x1="467.35" y1="205.90" x2="467.35" y2="206.60" stroke="#555" stroke-width="1.0" />
<line x1="467.35" y1="212.80" x2="467.35" y2="213.50" stroke="#555" stroke-width="1.0" />
<line x1="465.95" y1="205.90" x2="468.75" y2="205.90" stroke="#555" stroke-width="1.1" />
<line x1="465.95" y1="213.50" x2="468.75" y2="213.50" stroke="#555" stroke-width="1.1" />
<rect x="465.40" y="206.60" width="3.90" height="6.20" fill="#fff" stroke="#5c5c5c" stroke-width="1.1"/>
<line x1="465.50" y1="209.60" x2="469.20" y2="209.60" stroke="#4a4a4a" stroke-width="1.1" />
<line x1="479.65" y1="87.40" x2="479.65" y2="115.40" stroke="#555" stroke-width="1.0" />
<line x1="479.65" y1="207.30" x2="479.65" y2="209.90" stroke="#555" stroke-width="1.0" />
<line x1="478.25" y1="87.40" x2="481.05" y2="87.40" stroke="#555" stroke-width="1.1" />
<line x1="478.25" y1="209.90" x2="481.05" y2="209.90" stroke="#555" stroke-width="1.1" />
<rect x="477.70" y="115.40" width="3.90" height="91.90" fill="#fff" stroke="#5c5c5c" stroke-width="1.1"/>
<line x1="477.80" y1="198.80" x2="481.50" y2="198.80" stroke="#4a4a4a" stroke-width="1.1" />
<line x1="485.65" y1="200.50" x2="485.65" y2="202.10" stroke="#555" stroke-width="1.0" />
<line x1="485.65" y1="209.20" x2="485.65" y2="209.90" stroke="#555" stroke-width="1.0" />
<line x1="484.25" y1="200.50" x2="487.05" y2="200.50" stroke="#555" stroke-width="1.1" />
<line x1="484.25" y1="209.90" x2="487.05" y2="209.90" stroke="#555" stroke-width="1.1" />
<rect x="483.70" y="202.10" width="3.90" height="7.10" fill="#fff" stroke="#5c5c5c" stroke-width="1.1"/>
<line x1="483.80" y1="205.30" x2="487.50" y2="205.30" stroke="#4a4a4a" stroke-width="1.1" />
<line x1="497.90" y1="57.20" x2="497.90" y2="79.10" stroke="#555" stroke-width="1.0" />
<line x1="497.90" y1="173.80" x2="497.90" y2="183.20" stroke="#555" stroke-width="1.0" />
<line x1="496.50" y1="57.20" x2="499.30" y2="57.20" stroke="#555" stroke-width="1.1" />
<line x1="496.50" y1="183.20" x2="499.30" y2="183.20" stroke="#555" stroke-width="1.1" />
<rect x="495.90" y="79.10" width="4.00" height="94.70" fill="#fff" stroke="#5c5c5c" stroke-width="1.1"/>
<line x1="496.00" y1="144.40" x2="499.80" y2="144.40" stroke="#4a4a4a" stroke-width="1.1" />
<line x1="504.05" y1="166.20" x2="504.05" y2="169.80" stroke="#555" stroke-width="1.0" />
<line x1="504.05" y1="187.60" x2="504.05" y2="190.20" stroke="#555" stroke-width="1.0" />
<line x1="502.65" y1="166.20" x2="505.45" y2="166.20" stroke="#555" stroke-width="1.1" />
<line x1="502.65" y1="190.20" x2="505.45" y2="190.20" stroke="#555" stroke-width="1.1" />
<rect x="501.90" y="169.80" width="4.30" height="17.80" fill="#fff" stroke="#5c5c5c" stroke-width="1.1"/>
<line x1="502.00" y1="180.50" x2="506.10" y2="180.50" stroke="#4a4a4a" stroke-width="1.1" />
<line x1="516.05" y1="59.20" x2="516.05" y2="86.20" stroke="#555" stroke-width="1.0" />
<line x1="516.05" y1="176.90" x2="516.05" y2="180.50" stroke="#555" stroke-width="1.0" />
<line x1="514.65" y1="59.20" x2="517.45" y2="59.20" stroke="#555" stroke-width="1.1" />
<line x1="514.65" y1="180.50" x2="517.45" y2="180.50" stroke="#555" stroke-width="1.1" />
<rect x="514.00" y="86.20" width="4.10" height="90.70" fill="#fff" stroke="#5c5c5c" stroke-width="1.1"/>
<line x1="514.10" y1="166.40" x2="518.00" y2="166.40" stroke="#4a4a4a" stroke-width="1.1" />
<line x1="522.10" y1="170.60" x2="522.10" y2="172.40" stroke="#555" stroke-width="1.0" />
<line x1="522.10" y1="185.60" x2="522.10" y2="187.60" stroke="#555" stroke-width="1.0" />
<line x1="520.70" y1="170.60" x2="523.50" y2="170.60" stroke="#555" stroke-width="1.1" />
<line x1="520.70" y1="187.60" x2="523.50" y2="187.60" stroke="#555" stroke-width="1.1" />
<rect x="519.90" y="172.40" width="4.40" height="13.20" fill="#fff" stroke="#5c5c5c" stroke-width="1.1"/>
<line x1="520.00" y1="180.20" x2="524.20" y2="180.20" stroke="#4a4a4a" stroke-width="1.1" />
<line x1="534.45" y1="89.30" x2="534.45" y2="118.30" stroke="#333" stroke-width="1.0" />
<line x1="534.45" y1="210.70" x2="534.45" y2="212.10" stroke="#333" stroke-width="1.0" />
<line x1="533.05" y1="89.30" x2="535.85" y2="89.30" stroke="#333" stroke-width="1.1" />
<line x1="533.05" y1="212.10" x2="535.85" y2="212.10" stroke="#333" stroke-width="1.1" />
<rect x="532.60" y="118.30" width="3.70" height="92.40" fill="#fff" stroke="#2a2aff" stroke-width="1.1"/>
<line x1="532.70" y1="206.30" x2="536.20" y2="206.30" stroke="#ff3a3a" stroke-width="1.1" />
<line x1="540.50" y1="207.90" x2="540.50" y2="208.60" stroke="#333" stroke-width="1.0" />
<line x1="540.50" y1="212.60" x2="540.50" y2="213.30" stroke="#333" stroke-width="1.0" />
<line x1="539.10" y1="207.90" x2="541.90" y2="207.90" stroke="#333" stroke-width="1.1" />
<line x1="539.10" y1="213.30" x2="541.90" y2="213.30" stroke="#333" stroke-width="1.1" />
<rect x="538.40" y="208.60" width="4.20" height="4.00" fill="#fff" stroke="#2a2aff" stroke-width="1.1"/>
<line x1="538.50" y1="211.00" x2="542.50" y2="211.00" stroke="#ff3a3a" stroke-width="1.1" />
<line x1="552.90" y1="92.30" x2="552.90" y2="118.70" stroke="#555" stroke-width="1.0" />
<line x1="552.90" y1="207.60" x2="552.90" y2="210.30" stroke="#555" stroke-width="1.0" />
<line x1="551.50" y1="92.30" x2="554.30" y2="92.30" stroke="#555" stroke-width="1.1" />
<line x1="551.50" y1="210.30" x2="554.30" y2="210.30" stroke="#555" stroke-width="1.1" />
<rect x="550.70" y="118.70" width="4.40" height="88.90" fill="#fff" stroke="#5c5c5c" stroke-width="1.1"/>
<line x1="550.80" y1="198.30" x2="555.00" y2="198.30" stroke="#4a4a4a" stroke-width="1.1" />
<line x1="558.70" y1="200.50" x2="558.70" y2="202.70" stroke="#555" stroke-width="1.0" />
<line x1="558.70" y1="211.60" x2="558.70" y2="212.80" stroke="#555" stroke-width="1.0" />
<line x1="557.30" y1="200.50" x2="560.10" y2="200.50" stroke="#555" stroke-width="1.1" />
<line x1="557.30" y1="212.80" x2="560.10" y2="212.80" stroke="#555" stroke-width="1.1" />
<rect x="556.70" y="202.70" width="4.00" height="8.90" fill="#fff" stroke="#5c5c5c" stroke-width="1.1"/>
<line x1="556.80" y1="207.00" x2="560.60" y2="207.00" stroke="#4a4a4a" stroke-width="1.1" />
<line x1="81.30" y1="136.95" x2="81.30" y2="142.35" stroke="#111" stroke-width="1.0" />
<line x1="78.95" y1="138.45" x2="83.65" y2="140.85" stroke="#222" stroke-width="0.8" />
<line x1="78.95" y1="140.85" x2="83.65" y2="138.45" stroke="#222" stroke-width="0.8" />
<line x1="81.30" y1="143.85" x2="81.30" y2="149.25" stroke="#111" stroke-width="1.0" />
<line x1="78.95" y1="145.35" x2="83.65" y2="147.75" stroke="#222" stroke-width="0.8" />
<line x1="78.95" y1="147.75" x2="83.65" y2="145.35" stroke="#222" stroke-width="0.8" />
<line x1="81.30" y1="150.75" x2="81.30" y2="156.15" stroke="#111" stroke-width="1.0" />
<line x1="78.95" y1="152.25" x2="83.65" y2="154.65" stroke="#222" stroke-width="0.8" />
<line x1="78.95" y1="154.65" x2="83.65" y2="152.25" stroke="#222" stroke-width="0.8" />
<line x1="118.60" y1="174.30" x2="118.60" y2="179.70" stroke="#111" stroke-width="1.0" />
<line x1="116.25" y1="175.80" x2="120.95" y2="178.20" stroke="#222" stroke-width="0.8" />
<line x1="116.25" y1="178.20" x2="120.95" y2="175.80" stroke="#222" stroke-width="0.8" />
<line x1="118.60" y1="181.20" x2="118.60" y2="186.60" stroke="#111" stroke-width="1.0" />
<line x1="116.25" y1="182.70" x2="120.95" y2="185.10" stroke="#222" stroke-width="0.8" />
<line x1="116.25" y1="185.10" x2="120.95" y2="182.70" stroke="#222" stroke-width="0.8" />
<line x1="118.60" y1="188.10" x2="118.60" y2="193.50" stroke="#111" stroke-width="1.0" />
<line x1="116.25" y1="189.60" x2="120.95" y2="192.00" stroke="#222" stroke-width="0.8" />
<line x1="116.25" y1="192.00" x2="120.95" y2="189.60" stroke="#222" stroke-width="0.8" />
<line x1="135.65" y1="32.50" x2="135.65" y2="37.90" stroke="#111" stroke-width="1.0" />
<line x1="133.30" y1="34.00" x2="138.00" y2="36.40" stroke="#222" stroke-width="0.8" />
<line x1="133.30" y1="36.40" x2="138.00" y2="34.00" stroke="#222" stroke-width="0.8" />
<line x1="135.65" y1="39.40" x2="135.65" y2="44.80" stroke="#111" stroke-width="1.0" />
<line x1="133.30" y1="40.90" x2="138.00" y2="43.30" stroke="#222" stroke-width="0.8" />
<line x1="133.30" y1="43.30" x2="138.00" y2="40.90" stroke="#222" stroke-width="0.8" />
<line x1="135.65" y1="46.30" x2="135.65" y2="51.70" stroke="#111" stroke-width="1.0" />
<line x1="133.30" y1="47.80" x2="138.00" y2="50.20" stroke="#222" stroke-width="0.8" />
<line x1="133.30" y1="50.20" x2="138.00" y2="47.80" stroke="#222" stroke-width="0.8" />
<line x1="153.40" y1="35.80" x2="153.40" y2="41.20" stroke="#111" stroke-width="1.0" />
<line x1="151.05" y1="37.30" x2="155.75" y2="39.70" stroke="#222" stroke-width="0.8" />
<line x1="151.05" y1="39.70" x2="155.75" y2="37.30" stroke="#222" stroke-width="0.8" />
<line x1="153.40" y1="42.70" x2="153.40" y2="48.10" stroke="#111" stroke-width="1.0" />
<line x1="151.05" y1="44.20" x2="155.75" y2="46.60" stroke="#222" stroke-width="0.8" />
<line x1="151.05" y1="46.60" x2="155.75" y2="44.20" stroke="#222" stroke-width="0.8" />
<line x1="153.40" y1="49.60" x2="153.40" y2="55.00" stroke="#111" stroke-width="1.0" />
<line x1="151.05" y1="51.10" x2="155.75" y2="53.50" stroke="#222" stroke-width="0.8" />
<line x1="151.05" y1="53.50" x2="155.75" y2="51.10" stroke="#222" stroke-width="0.8" />
<line x1="171.90" y1="66.10" x2="171.90" y2="71.50" stroke="#111" stroke-width="1.0" />
<line x1="169.55" y1="67.60" x2="174.25" y2="70.00" stroke="#222" stroke-width="0.8" />
<line x1="169.55" y1="70.00" x2="174.25" y2="67.60" stroke="#222" stroke-width="0.8" />
<line x1="171.90" y1="73.00" x2="171.90" y2="78.40" stroke="#111" stroke-width="1.0" />
<line x1="169.55" y1="74.50" x2="174.25" y2="76.90" stroke="#222" stroke-width="0.8" />
<line x1="169.55" y1="76.90" x2="174.25" y2="74.50" stroke="#222" stroke-width="0.8" />
<line x1="171.90" y1="79.90" x2="171.90" y2="85.30" stroke="#111" stroke-width="1.0" />
<line x1="169.55" y1="81.40" x2="174.25" y2="83.80" stroke="#222" stroke-width="0.8" />
<line x1="169.55" y1="83.80" x2="174.25" y2="81.40" stroke="#222" stroke-width="0.8" />
<line x1="190.10" y1="65.10" x2="190.10" y2="70.50" stroke="#111" stroke-width="1.0" />
<line x1="187.75" y1="66.60" x2="192.45" y2="69.00" stroke="#222" stroke-width="0.8" />
<line x1="187.75" y1="69.00" x2="192.45" y2="66.60" stroke="#222" stroke-width="0.8" />
<line x1="190.10" y1="72.00" x2="190.10" y2="77.40" stroke="#111" stroke-width="1.0" />
<line x1="187.75" y1="73.50" x2="192.45" y2="75.90" stroke="#222" stroke-width="0.8" />
<line x1="187.75" y1="75.90" x2="192.45" y2="73.50" stroke="#222" stroke-width="0.8" />
<line x1="190.10" y1="78.90" x2="190.10" y2="84.30" stroke="#111" stroke-width="1.0" />
<line x1="187.75" y1="80.40" x2="192.45" y2="82.80" stroke="#222" stroke-width="0.8" />
<line x1="187.75" y1="82.80" x2="192.45" y2="80.40" stroke="#222" stroke-width="0.8" />
<line x1="207.40" y1="29.30" x2="207.40" y2="34.70" stroke="#111" stroke-width="1.0" />
<line x1="205.05" y1="30.80" x2="209.75" y2="33.20" stroke="#222" stroke-width="0.8" />
<line x1="205.05" y1="33.20" x2="209.75" y2="30.80" stroke="#222" stroke-width="0.8" />
<line x1="207.40" y1="36.20" x2="207.40" y2="41.60" stroke="#111" stroke-width="1.0" />
<line x1="205.05" y1="37.70" x2="209.75" y2="40.10" stroke="#222" stroke-width="0.8" />
<line x1="205.05" y1="40.10" x2="209.75" y2="37.70" stroke="#222" stroke-width="0.8" />
<line x1="207.40" y1="43.10" x2="207.40" y2="48.50" stroke="#111" stroke-width="1.0" />
<line x1="205.05" y1="44.60" x2="209.75" y2="47.00" stroke="#222" stroke-width="0.8" />
<line x1="205.05" y1="47.00" x2="209.75" y2="44.60" stroke="#222" stroke-width="0.8" />
<line x1="244.20" y1="67.05" x2="244.20" y2="72.45" stroke="#111" stroke-width="1.0" />
<line x1="241.85" y1="68.55" x2="246.55" y2="70.95" stroke="#222" stroke-width="0.8" />
<line x1="241.85" y1="70.95" x2="246.55" y2="68.55" stroke="#222" stroke-width="0.8" />
<line x1="244.20" y1="73.95" x2="244.20" y2="79.35" stroke="#111" stroke-width="1.0" />
<line x1="241.85" y1="75.45" x2="246.55" y2="77.85" stroke="#222" stroke-width="0.8" />
<line x1="241.85" y1="77.85" x2="246.55" y2="75.45" stroke="#222" stroke-width="0.8" />
<line x1="244.20" y1="80.85" x2="244.20" y2="86.25" stroke="#111" stroke-width="1.0" />
<line x1="241.85" y1="82.35" x2="246.55" y2="84.75" stroke="#222" stroke-width="0.8" />
<line x1="241.85" y1="84.75" x2="246.55" y2="82.35" stroke="#222" stroke-width="0.8" />
<line x1="262.50" y1="68.00" x2="262.50" y2="73.40" stroke="#111" stroke-width="1.0" />
<line x1="260.15" y1="69.50" x2="264.85" y2="71.90" stroke="#222" stroke-width="0.8" />
<line x1="260.15" y1="71.90" x2="264.85" y2="69.50" stroke="#222" stroke-width="0.8" />
<line x1="262.50" y1="74.90" x2="262.50" y2="80.30" stroke="#111" stroke-width="1.0" />
<line x1="260.15" y1="76.40" x2="264.85" y2="78.80" stroke="#222" stroke-width="0.8" />
<line x1="260.15" y1="78.80" x2="264.85" y2="76.40" stroke="#222" stroke-width="0.8" />
<line x1="262.50" y1="81.80" x2="262.50" y2="87.20" stroke="#111" stroke-width="1.0" />
<line x1="260.15" y1="83.30" x2="264.85" y2="85.70" stroke="#222" stroke-width="0.8" />
<line x1="260.15" y1="85.70" x2="264.85" y2="83.30" stroke="#222" stroke-width="0.8" />
<line x1="300.90" y1="135.00" x2="300.90" y2="140.40" stroke="#111" stroke-width="1.0" />
<line x1="298.55" y1="136.50" x2="303.25" y2="138.90" stroke="#222" stroke-width="0.8" />
<line x1="298.55" y1="138.90" x2="303.25" y2="136.50" stroke="#222" stroke-width="0.8" />
<line x1="300.90" y1="141.90" x2="300.90" y2="147.30" stroke="#111" stroke-width="1.0" />
<line x1="298.55" y1="143.40" x2="303.25" y2="145.80" stroke="#222" stroke-width="0.8" />
<line x1="298.55" y1="145.80" x2="303.25" y2="143.40" stroke="#222" stroke-width="0.8" />
<line x1="300.90" y1="148.80" x2="300.90" y2="154.20" stroke="#111" stroke-width="1.0" />
<line x1="298.55" y1="150.30" x2="303.25" y2="152.70" stroke="#222" stroke-width="0.8" />
<line x1="298.55" y1="152.70" x2="303.25" y2="150.30" stroke="#222" stroke-width="0.8" />
<line x1="335.80" y1="191.00" x2="335.80" y2="196.40" stroke="#111" stroke-width="1.0" />
<line x1="333.45" y1="192.50" x2="338.15" y2="194.90" stroke="#222" stroke-width="0.8" />
<line x1="333.45" y1="194.90" x2="338.15" y2="192.50" stroke="#222" stroke-width="0.8" />
<line x1="408.50" y1="179.60" x2="408.50" y2="185.00" stroke="#111" stroke-width="1.0" />
<line x1="406.15" y1="181.10" x2="410.85" y2="183.50" stroke="#222" stroke-width="0.8" />
<line x1="406.15" y1="183.50" x2="410.85" y2="181.10" stroke="#222" stroke-width="0.8" />
<line x1="408.50" y1="186.50" x2="408.50" y2="191.90" stroke="#111" stroke-width="1.0" />
<line x1="406.15" y1="188.00" x2="410.85" y2="190.40" stroke="#222" stroke-width="0.8" />
<line x1="406.15" y1="190.40" x2="410.85" y2="188.00" stroke="#222" stroke-width="0.8" />
<line x1="408.50" y1="193.40" x2="408.50" y2="198.80" stroke="#111" stroke-width="1.0" />
<line x1="406.15" y1="194.90" x2="410.85" y2="197.30" stroke="#222" stroke-width="0.8" />
<line x1="406.15" y1="197.30" x2="410.85" y2="194.90" stroke="#222" stroke-width="0.8" />
<line x1="427.40" y1="35.45" x2="427.40" y2="40.85" stroke="#111" stroke-width="1.0" />
<line x1="425.05" y1="36.95" x2="429.75" y2="39.35" stroke="#222" stroke-width="0.8" />
<line x1="425.05" y1="39.35" x2="429.75" y2="36.95" stroke="#222" stroke-width="0.8" />
<line x1="427.40" y1="42.35" x2="427.40" y2="47.75" stroke="#111" stroke-width="1.0" />
<line x1="425.05" y1="43.85" x2="429.75" y2="46.25" stroke="#222" stroke-width="0.8" />
<line x1="425.05" y1="46.25" x2="429.75" y2="43.85" stroke="#222" stroke-width="0.8" />
<line x1="427.40" y1="49.25" x2="427.40" y2="54.65" stroke="#111" stroke-width="1.0" />
<line x1="425.05" y1="50.75" x2="429.75" y2="53.15" stroke="#222" stroke-width="0.8" />
<line x1="425.05" y1="53.15" x2="429.75" y2="50.75" stroke="#222" stroke-width="0.8" />
<line x1="446.70" y1="52.30" x2="446.70" y2="57.70" stroke="#111" stroke-width="1.0" />
<line x1="444.35" y1="53.80" x2="449.05" y2="56.20" stroke="#222" stroke-width="0.8" />
<line x1="444.35" y1="56.20" x2="449.05" y2="53.80" stroke="#222" stroke-width="0.8" />
<line x1="446.70" y1="59.20" x2="446.70" y2="64.60" stroke="#111" stroke-width="1.0" />
<line x1="444.35" y1="60.70" x2="449.05" y2="63.10" stroke="#222" stroke-width="0.8" />
<line x1="444.35" y1="63.10" x2="449.05" y2="60.70" stroke="#222" stroke-width="0.8" />
<line x1="538.20" y1="81.50" x2="538.20" y2="86.90" stroke="#111" stroke-width="1.0" />
<line x1="535.85" y1="83.00" x2="540.55" y2="85.40" stroke="#222" stroke-width="0.8" />
<line x1="535.85" y1="85.40" x2="540.55" y2="83.00" stroke="#222" stroke-width="0.8" />
<line x1="60.45" y1="390.10" x2="60.45" y2="401.60" stroke="#555" stroke-width="1.0" />
<line x1="60.45" y1="455.30" x2="60.45" y2="462.40" stroke="#555" stroke-width="1.0" />
<line x1="59.05" y1="390.10" x2="61.85" y2="390.10" stroke="#555" stroke-width="1.1" />
<line x1="59.05" y1="462.40" x2="61.85" y2="462.40" stroke="#555" stroke-width="1.1" />
<rect x="58.60" y="401.60" width="3.70" height="53.70" fill="#fff" stroke="#5c5c5c" stroke-width="1.1"/>
<line x1="58.70" y1="435.10" x2="62.20" y2="435.10" stroke="#4a4a4a" stroke-width="1.1" />
<line x1="67.80" y1="418.50" x2="67.80" y2="424.30" stroke="#555" stroke-width="1.0" />
<line x1="67.80" y1="480.00" x2="67.80" y2="492.20" stroke="#555" stroke-width="1.0" />
<line x1="66.40" y1="418.50" x2="69.20" y2="418.50" stroke="#555" stroke-width="1.1" />
<line x1="66.40" y1="492.20" x2="69.20" y2="492.20" stroke="#555" stroke-width="1.1" />
<rect x="65.60" y="424.30" width="4.40" height="55.70" fill="#fff" stroke="#5c5c5c" stroke-width="1.1"/>
<line x1="65.70" y1="442.40" x2="69.90" y2="442.40" stroke="#4a4a4a" stroke-width="1.1" />
<line x1="133.50" y1="390.40" x2="133.50" y2="397.60" stroke="#333" stroke-width="1.0" />
<line x1="133.50" y1="450.30" x2="133.50" y2="460.50" stroke="#333" stroke-width="1.0" />
<line x1="132.10" y1="390.40" x2="134.90" y2="390.40" stroke="#333" stroke-width="1.1" />
<line x1="132.10" y1="460.50" x2="134.90" y2="460.50" stroke="#333" stroke-width="1.1" />
<rect x="131.60" y="397.60" width="3.80" height="52.70" fill="#fff" stroke="#2a2aff" stroke-width="1.1"/>
<line x1="131.70" y1="418.50" x2="135.30" y2="418.50" stroke="#ff3a3a" stroke-width="1.1" />
<line x1="140.55" y1="417.40" x2="140.55" y2="426.50" stroke="#333" stroke-width="1.0" />
<line x1="140.55" y1="474.50" x2="140.55" y2="480.90" stroke="#333" stroke-width="1.0" />
<line x1="139.15" y1="417.40" x2="141.95" y2="417.40" stroke="#333" stroke-width="1.1" />
<line x1="139.15" y1="480.90" x2="141.95" y2="480.90" stroke="#333" stroke-width="1.1" />
<rect x="138.70" y="426.50" width="3.70" height="48.00" fill="#fff" stroke="#2a2aff" stroke-width="1.1"/>
<line x1="138.80" y1="455.40" x2="142.30" y2="455.40" stroke="#ff3a3a" stroke-width="1.1" />
<line x1="206.50" y1="407.30" x2="206.50" y2="416.00" stroke="#555" stroke-width="1.0" />
<line x1="206.50" y1="470.40" x2="206.50" y2="480.70" stroke="#555" stroke-width="1.0" />
<line x1="205.10" y1="407.30" x2="207.90" y2="407.30" stroke="#555" stroke-width="1.1" />
<line x1="205.10" y1="480.70" x2="207.90" y2="480.70" stroke="#555" stroke-width="1.1" />
<rect x="204.60" y="416.00" width="3.80" height="54.40" fill="#fff" stroke="#5c5c5c" stroke-width="1.1"/>
<line x1="204.70" y1="441.50" x2="208.30" y2="441.50" stroke="#4a4a4a" stroke-width="1.1" />
<line x1="213.60" y1="405.00" x2="213.60" y2="417.60" stroke="#555" stroke-width="1.0" />
<line x1="213.60" y1="479.40" x2="213.60" y2="487.80" stroke="#555" stroke-width="1.0" />
<line x1="212.20" y1="405.00" x2="215.00" y2="405.00" stroke="#555" stroke-width="1.1" />
<line x1="212.20" y1="487.80" x2="215.00" y2="487.80" stroke="#555" stroke-width="1.1" />
<rect x="211.70" y="417.60" width="3.80" height="61.80" fill="#fff" stroke="#5c5c5c" stroke-width="1.1"/>
<line x1="211.80" y1="454.20" x2="215.40" y2="454.20" stroke="#4a4a4a" stroke-width="1.1" />
<line x1="279.20" y1="426.60" x2="279.20" y2="431.50" stroke="#555" stroke-width="1.0" />
<line x1="279.20" y1="484.60" x2="279.20" y2="497.20" stroke="#555" stroke-width="1.0" />
<line x1="277.80" y1="426.60" x2="280.60" y2="426.60" stroke="#555" stroke-width="1.1" />
<line x1="277.80" y1="497.20" x2="280.60" y2="497.20" stroke="#555" stroke-width="1.1" />
<rect x="277.20" y="431.50" width="4.00" height="53.10" fill="#fff" stroke="#5c5c5c" stroke-width="1.1"/>
<line x1="277.30" y1="446.40" x2="281.10" y2="446.40" stroke="#4a4a4a" stroke-width="1.1" />
<line x1="286.60" y1="380.20" x2="286.60" y2="391.20" stroke="#555" stroke-width="1.0" />
<line x1="286.60" y1="452.30" x2="286.60" y2="462.50" stroke="#555" stroke-width="1.0" />
<line x1="285.20" y1="380.20" x2="288.00" y2="380.20" stroke="#555" stroke-width="1.1" />
<line x1="285.20" y1="462.50" x2="288.00" y2="462.50" stroke="#555" stroke-width="1.1" />
<rect x="284.70" y="391.20" width="3.80" height="61.10" fill="#fff" stroke="#5c5c5c" stroke-width="1.1"/>
<line x1="284.80" y1="423.40" x2="288.40" y2="423.40" stroke="#4a4a4a" stroke-width="1.1" />
<line x1="352.15" y1="414.40" x2="352.15" y2="421.50" stroke="#555" stroke-width="1.0" />
<line x1="352.15" y1="474.80" x2="352.15" y2="485.40" stroke="#555" stroke-width="1.0" />
<line x1="350.75" y1="414.40" x2="353.55" y2="414.40" stroke="#555" stroke-width="1.1" />
<line x1="350.75" y1="485.40" x2="353.55" y2="485.40" stroke="#555" stroke-width="1.1" />
<rect x="350.30" y="421.50" width="3.70" height="53.30" fill="#fff" stroke="#5c5c5c" stroke-width="1.1"/>
<line x1="350.40" y1="442.30" x2="353.90" y2="442.30" stroke="#4a4a4a" stroke-width="1.1" />
<line x1="359.25" y1="404.50" x2="359.25" y2="413.60" stroke="#555" stroke-width="1.0" />
<line x1="359.25" y1="453.40" x2="359.25" y2="458.10" stroke="#555" stroke-width="1.0" />
<line x1="357.85" y1="404.50" x2="360.65" y2="404.50" stroke="#555" stroke-width="1.1" />
<line x1="357.85" y1="458.10" x2="360.65" y2="458.10" stroke="#555" stroke-width="1.1" />
<rect x="357.40" y="413.60" width="3.70" height="39.80" fill="#fff" stroke="#5c5c5c" stroke-width="1.1"/>
<line x1="357.50" y1="438.40" x2="361.00" y2="438.40" stroke="#4a4a4a" stroke-width="1.1" />
<line x1="425.15" y1="417.10" x2="425.15" y2="425.50" stroke="#333" stroke-width="1.0" />
<line x1="425.15" y1="471.20" x2="425.15" y2="477.00" stroke="#333" stroke-width="1.0" />
<line x1="423.75" y1="417.10" x2="426.55" y2="417.10" stroke="#333" stroke-width="1.1" />
<line x1="423.75" y1="477.00" x2="426.55" y2="477.00" stroke="#333" stroke-width="1.1" />
<rect x="423.30" y="425.50" width="3.70" height="45.70" fill="#fff" stroke="#2a2aff" stroke-width="1.1"/>
<line x1="423.40" y1="451.50" x2="426.90" y2="451.50" stroke="#ff3a3a" stroke-width="1.1" />
<line x1="432.25" y1="377.70" x2="432.25" y2="389.20" stroke="#333" stroke-width="1.0" />
<line x1="432.25" y1="441.20" x2="432.25" y2="446.40" stroke="#333" stroke-width="1.0" />
<line x1="430.85" y1="377.70" x2="433.65" y2="377.70" stroke="#333" stroke-width="1.1" />
<line x1="430.85" y1="446.40" x2="433.65" y2="446.40" stroke="#333" stroke-width="1.1" />
<rect x="430.40" y="389.20" width="3.70" height="52.00" fill="#fff" stroke="#2a2aff" stroke-width="1.1"/>
<line x1="430.50" y1="423.60" x2="434.00" y2="423.60" stroke="#ff3a3a" stroke-width="1.1" />
<line x1="498.25" y1="417.10" x2="498.25" y2="425.10" stroke="#333" stroke-width="1.0" />
<line x1="498.25" y1="476.70" x2="498.25" y2="485.70" stroke="#333" stroke-width="1.0" />
<line x1="496.85" y1="417.10" x2="499.65" y2="417.10" stroke="#333" stroke-width="1.1" />
<line x1="496.85" y1="485.70" x2="499.65" y2="485.70" stroke="#333" stroke-width="1.1" />
<rect x="496.30" y="425.10" width="3.90" height="51.60" fill="#fff" stroke="#2a2aff" stroke-width="1.1"/>
<line x1="496.40" y1="449.40" x2="500.10" y2="449.40" stroke="#ff3a3a" stroke-width="1.1" />
<line x1="505.25" y1="407.60" x2="505.25" y2="415.20" stroke="#333" stroke-width="1.0" />
<line x1="505.25" y1="451.20" x2="505.25" y2="455.40" stroke="#333" stroke-width="1.0" />
<line x1="503.85" y1="407.60" x2="506.65" y2="407.60" stroke="#333" stroke-width="1.1" />
<line x1="503.85" y1="455.40" x2="506.65" y2="455.40" stroke="#333" stroke-width="1.1" />
<rect x="503.40" y="415.20" width="3.70" height="36.00" fill="#fff" stroke="#2a2aff" stroke-width="1.1"/>
<line x1="503.50" y1="437.00" x2="507.00" y2="437.00" stroke="#ff3a3a" stroke-width="1.1" />
<line x1="137.60" y1="369.95" x2="137.60" y2="375.35" stroke="#111" stroke-width="1.0" />
<line x1="135.25" y1="371.45" x2="139.95" y2="373.85" stroke="#222" stroke-width="0.8" />
<line x1="135.25" y1="373.85" x2="139.95" y2="371.45" stroke="#222" stroke-width="0.8" />
<line x1="137.60" y1="376.85" x2="137.60" y2="382.25" stroke="#111" stroke-width="1.0" />
<line x1="135.25" y1="378.35" x2="139.95" y2="380.75" stroke="#222" stroke-width="0.8" />
<line x1="135.25" y1="380.75" x2="139.95" y2="378.35" stroke="#222" stroke-width="0.8" />
<line x1="137.60" y1="383.75" x2="137.60" y2="389.15" stroke="#111" stroke-width="1.0" />
<line x1="135.25" y1="385.25" x2="139.95" y2="387.65" stroke="#222" stroke-width="0.8" />
<line x1="135.25" y1="387.65" x2="139.95" y2="385.25" stroke="#222" stroke-width="0.8" />
<line x1="427.50" y1="363.75" x2="427.50" y2="369.15" stroke="#111" stroke-width="1.0" />
<line x1="425.15" y1="365.25" x2="429.85" y2="367.65" stroke="#222" stroke-width="0.8" />
<line x1="425.15" y1="367.65" x2="429.85" y2="365.25" stroke="#222" stroke-width="0.8" />
<line x1="427.50" y1="370.65" x2="427.50" y2="376.05" stroke="#111" stroke-width="1.0" />
<line x1="425.15" y1="372.15" x2="429.85" y2="374.55" stroke="#222" stroke-width="0.8" />
<line x1="425.15" y1="374.55" x2="429.85" y2="372.15" stroke="#222" stroke-width="0.8" />
<line x1="500.70" y1="386.30" x2="500.70" y2="391.70" stroke="#111" stroke-width="1.0" />
<line x1="498.35" y1="387.80" x2="503.05" y2="390.20" stroke="#222" stroke-width="0.8" />
<line x1="498.35" y1="390.20" x2="503.05" y2="387.80" stroke="#222" stroke-width="0.8" />
<line x1="500.70" y1="393.20" x2="500.70" y2="398.60" stroke="#111" stroke-width="1.0" />
<line x1="498.35" y1="394.70" x2="503.05" y2="397.10" stroke="#222" stroke-width="0.8" />
<line x1="498.35" y1="397.10" x2="503.05" y2="394.70" stroke="#222" stroke-width="0.8" />
<line x1="500.70" y1="400.10" x2="500.70" y2="405.50" stroke="#111" stroke-width="1.0" />
<line x1="498.35" y1="401.60" x2="503.05" y2="404.00" stroke="#222" stroke-width="0.8" />
<line x1="498.35" y1="404.00" x2="503.05" y2="401.60" stroke="#222" stroke-width="0.8" />
<line x1="79.20" y1="650.00" x2="79.20" y2="651.20" stroke="#333" stroke-width="1.0" />
<line x1="79.20" y1="661.40" x2="79.20" y2="662.90" stroke="#333" stroke-width="1.0" />
<line x1="77.80" y1="650.00" x2="80.60" y2="650.00" stroke="#333" stroke-width="1.1" />
<line x1="77.80" y1="662.90" x2="80.60" y2="662.90" stroke="#333" stroke-width="1.1" />
<rect x="77.00" y="651.20" width="4.40" height="10.20" fill="#fff" stroke="#2a2aff" stroke-width="1.1"/>
<line x1="77.10" y1="655.90" x2="81.30" y2="655.90" stroke="#ff3a3a" stroke-width="1.1" />
<line x1="85.25" y1="657.80" x2="85.25" y2="660.60" stroke="#333" stroke-width="1.0" />
<line x1="85.25" y1="676.40" x2="85.25" y2="678.30" stroke="#333" stroke-width="1.0" />
<line x1="83.85" y1="657.80" x2="86.65" y2="657.80" stroke="#333" stroke-width="1.1" />
<line x1="83.85" y1="678.30" x2="86.65" y2="678.30" stroke="#333" stroke-width="1.1" />
<rect x="83.10" y="660.60" width="4.30" height="15.80" fill="#fff" stroke="#2a2aff" stroke-width="1.1"/>
<line x1="83.20" y1="669.50" x2="87.30" y2="669.50" stroke="#ff3a3a" stroke-width="1.1" />
<line x1="97.70" y1="663.50" x2="97.70" y2="665.70" stroke="#333" stroke-width="1.0" />
<line x1="97.70" y1="687.30" x2="97.70" y2="691.40" stroke="#333" stroke-width="1.0" />
<line x1="96.30" y1="663.50" x2="99.10" y2="663.50" stroke="#333" stroke-width="1.1" />
<line x1="96.30" y1="691.40" x2="99.10" y2="691.40" stroke="#333" stroke-width="1.1" />
<rect x="95.70" y="665.70" width="4.00" height="21.60" fill="#fff" stroke="#2a2aff" stroke-width="1.1"/>
<line x1="95.80" y1="674.50" x2="99.60" y2="674.50" stroke="#ff3a3a" stroke-width="1.1" />
<line x1="103.60" y1="658.40" x2="103.60" y2="659.20" stroke="#333" stroke-width="1.0" />
<line x1="103.60" y1="668.60" x2="103.60" y2="669.80" stroke="#333" stroke-width="1.0" />
<line x1="102.20" y1="658.40" x2="105.00" y2="658.40" stroke="#333" stroke-width="1.1" />
<line x1="102.20" y1="669.80" x2="105.00" y2="669.80" stroke="#333" stroke-width="1.1" />
<rect x="101.60" y="659.20" width="4.00" height="9.40" fill="#fff" stroke="#2a2aff" stroke-width="1.1"/>
<line x1="101.70" y1="663.90" x2="105.50" y2="663.90" stroke="#ff3a3a" stroke-width="1.1" />
<line x1="115.70" y1="716.60" x2="115.70" y2="721.30" stroke="#333" stroke-width="1.0" />
<line x1="115.70" y1="746.60" x2="115.70" y2="750.30" stroke="#333" stroke-width="1.0" />
<line x1="114.30" y1="716.60" x2="117.10" y2="716.60" stroke="#333" stroke-width="1.1" />
<line x1="114.30" y1="750.30" x2="117.10" y2="750.30" stroke="#333" stroke-width="1.1" />
<rect x="113.70" y="721.30" width="4.00" height="25.30" fill="#fff" stroke="#2a2aff" stroke-width="1.1"/>
<line x1="113.80" y1="735.30" x2="117.60" y2="735.30" stroke="#ff3a3a" stroke-width="1.1" />
<line x1="121.65" y1="702.40" x2="121.65" y2="707.10" stroke="#333" stroke-width="1.0" />
<line x1="121.65" y1="724.30" x2="121.65" y2="726.00" stroke="#333" stroke-width="1.0" />
<line x1="120.25" y1="702.40" x2="123.05" y2="702.40" stroke="#333" stroke-width="1.1" />
<line x1="120.25" y1="726.00" x2="123.05" y2="726.00" stroke="#333" stroke-width="1.1" />
<rect x="119.80" y="707.10" width="3.70" height="17.20" fill="#fff" stroke="#2a2aff" stroke-width="1.1"/>
<line x1="119.90" y1="720.50" x2="123.40" y2="720.50" stroke="#ff3a3a" stroke-width="1.1" />
<line x1="152.05" y1="648.90" x2="152.05" y2="650.30" stroke="#333" stroke-width="1.0" />
<line x1="152.05" y1="660.70" x2="152.05" y2="662.30" stroke="#333" stroke-width="1.0" />
<line x1="150.65" y1="648.90" x2="153.45" y2="648.90" stroke="#333" stroke-width="1.1" />
<line x1="150.65" y1="662.30" x2="153.45" y2="662.30" stroke="#333" stroke-width="1.1" />
<rect x="149.90" y="650.30" width="4.30" height="10.40" fill="#fff" stroke="#2a2aff" stroke-width="1.1"/>
<line x1="150.00" y1="655.50" x2="154.10" y2="655.50" stroke="#ff3a3a" stroke-width="1.1" />
<line x1="158.40" y1="662.30" x2="158.40" y2="685.90" stroke="#333" stroke-width="1.0" />
<line x1="158.40" y1="770.60" x2="158.40" y2="774.90" stroke="#333" stroke-width="1.0" />
<line x1="157.00" y1="662.30" x2="159.80" y2="662.30" stroke="#333" stroke-width="1.1" />
<line x1="157.00" y1="774.90" x2="159.80" y2="774.90" stroke="#333" stroke-width="1.1" />
<rect x="156.30" y="685.90" width="4.20" height="84.70" fill="#fff" stroke="#2a2aff" stroke-width="1.1"/>
<line x1="156.40" y1="757.30" x2="160.40" y2="757.30" stroke="#ff3a3a" stroke-width="1.1" />
<line x1="170.45" y1="663.40" x2="170.45" y2="667.30" stroke="#555" stroke-width="1.0" />
<line x1="170.45" y1="688.60" x2="170.45" y2="691.30" stroke="#555" stroke-width="1.0" />
<line x1="169.05" y1="663.40" x2="171.85" y2="663.40" stroke="#555" stroke-width="1.1" />
<line x1="169.05" y1="691.30" x2="171.85" y2="691.30" stroke="#555" stroke-width="1.1" />
<rect x="168.60" y="667.30" width="3.70" height="21.30" fill="#fff" stroke="#5c5c5c" stroke-width="1.1"/>
<line x1="168.70" y1="680.30" x2="172.20" y2="680.30" stroke="#4a4a4a" stroke-width="1.1" />
<line x1="176.75" y1="674.40" x2="176.75" y2="694.40" stroke="#555" stroke-width="1.0" />
<line x1="176.75" y1="767.60" x2="176.75" y2="771.90" stroke="#555" stroke-width="1.0" />
<line x1="175.35" y1="674.40" x2="178.15" y2="674.40" stroke="#555" stroke-width="1.1" />
<line x1="175.35" y1="771.90" x2="178.15" y2="771.90" stroke="#555" stroke-width="1.1" />
<rect x="174.90" y="694.40" width="3.70" height="73.20" fill="#fff" stroke="#5c5c5c" stroke-width="1.1"/>
<line x1="175.00" y1="755.00" x2="178.50" y2="755.00" stroke="#4a4a4a" stroke-width="1.1" />
<line x1="188.70" y1="706.40" x2="188.70" y2="711.20" stroke="#333" stroke-width="1.0" />
<line x1="188.70" y1="739.40" x2="188.70" y2="743.80" stroke="#333" stroke-width="1.0" />
<line x1="187.30" y1="706.40" x2="190.10" y2="706.40" stroke="#333" stroke-width="1.1" />
<line x1="187.30" y1="743.80" x2="190.10" y2="743.80" stroke="#333" stroke-width="1.1" />
<rect x="186.70" y="711.20" width="4.00" height="28.20" fill="#fff" stroke="#2a2aff" stroke-width="1.1"/>
<line x1="186.80" y1="725.40" x2="190.60" y2="725.40" stroke="#ff3a3a" stroke-width="1.1" />
<line x1="194.00" y1="745.90" x2="194.00" y2="750.50" stroke="#333" stroke-width="1.0" />
<line x1="192.60" y1="745.90" x2="195.40" y2="745.90" stroke="#333" stroke-width="1.1" />
<line x1="192.60" y1="807.50" x2="195.40" y2="807.50" stroke="#333" stroke-width="1.1" />
<rect x="191.70" y="750.50" width="4.60" height="57.00" fill="#fff" stroke="#2a2aff" stroke-width="1.1"/>
<line x1="191.80" y1="765.10" x2="196.20" y2="765.10" stroke="#ff3a3a" stroke-width="1.1" />
<line x1="225.25" y1="657.40" x2="225.25" y2="660.20" stroke="#555" stroke-width="1.0" />
<line x1="225.25" y1="676.00" x2="225.25" y2="678.70" stroke="#555" stroke-width="1.0" />
<line x1="223.85" y1="657.40" x2="226.65" y2="657.40" stroke="#555" stroke-width="1.1" />
<line x1="223.85" y1="678.70" x2="226.65" y2="678.70" stroke="#555" stroke-width="1.1" />
<rect x="223.30" y="660.20" width="3.90" height="15.80" fill="#fff" stroke="#5c5c5c" stroke-width="1.1"/>
<line x1="223.40" y1="669.20" x2="227.10" y2="669.20" stroke="#4a4a4a" stroke-width="1.1" />
<line x1="231.15" y1="661.50" x2="231.15" y2="664.60" stroke="#555" stroke-width="1.0" />
<line x1="231.15" y1="752.30" x2="231.15" y2="777.80" stroke="#555" stroke-width="1.0" />
<line x1="229.75" y1="661.50" x2="232.55" y2="661.50" stroke="#555" stroke-width="1.1" />
<line x1="229.75" y1="777.80" x2="232.55" y2="777.80" stroke="#555" stroke-width="1.1" />
<rect x="229.30" y="664.60" width="3.70" height="87.70" fill="#fff" stroke="#5c5c5c" stroke-width="1.1"/>
<line x1="229.40" y1="674.40" x2="232.90" y2="674.40" stroke="#4a4a4a" stroke-width="1.1" />
<line x1="243.20" y1="657.90" x2="243.20" y2="659.10" stroke="#333" stroke-width="1.0" />
<line x1="243.20" y1="668.60" x2="243.20" y2="670.20" stroke="#333" stroke-width="1.0" />
<line x1="241.80" y1="657.90" x2="244.60" y2="657.90" stroke="#333" stroke-width="1.1" />
<line x1="241.80" y1="670.20" x2="244.60" y2="670.20" stroke="#333" stroke-width="1.1" />
<rect x="241.10" y="659.10" width="4.20" height="9.50" fill="#fff" stroke="#2a2aff" stroke-width="1.1"/>
<line x1="241.20" y1="663.80" x2="245.20" y2="663.80" stroke="#ff3a3a" stroke-width="1.1" />
<line x1="249.25" y1="669.70" x2="249.25" y2="674.40" stroke="#333" stroke-width="1.0" />
<line x1="249.25" y1="749.50" x2="249.25" y2="769.30" stroke="#333" stroke-width="1.0" />
<line x1="247.85" y1="669.70" x2="250.65" y2="669.70" stroke="#333" stroke-width="1.1" />
<line x1="247.85" y1="769.30" x2="250.65" y2="769.30" stroke="#333" stroke-width="1.1" />
<rect x="247.10" y="674.40" width="4.30" height="75.10" fill="#fff" stroke="#2a2aff" stroke-width="1.1"/>
<line x1="247.20" y1="688.30" x2="251.30" y2="688.30" stroke="#ff3a3a" stroke-width="1.1" />
<line x1="261.70" y1="701.20" x2="261.70" y2="706.00" stroke="#333" stroke-width="1.0" />
<line x1="261.70" y1="724.90" x2="261.70" y2="726.00" stroke="#333" stroke-width="1.0" />
<line x1="260.30" y1="701.20" x2="263.10" y2="701.20" stroke="#333" stroke-width="1.1" />
<line x1="260.30" y1="726.00" x2="263.10" y2="726.00" stroke="#333" stroke-width="1.1" />
<rect x="259.70" y="706.00" width="4.00" height="18.90" fill="#fff" stroke="#2a2aff" stroke-width="1.1"/>
<line x1="259.80" y1="719.80" x2="263.60" y2="719.80" stroke="#ff3a3a" stroke-width="1.1" />
<line x1="267.80" y1="750.40" x2="267.80" y2="752.40" stroke="#333" stroke-width="1.0" />
<line x1="267.80" y1="789.50" x2="267.80" y2="799.30" stroke="#333" stroke-width="1.0" />
<line x1="266.40" y1="750.40" x2="269.20" y2="750.40" stroke="#333" stroke-width="1.1" />
<line x1="266.40" y1="799.30" x2="269.20" y2="799.30" stroke="#333" stroke-width="1.1" />
<rect x="265.50" y="752.40" width="4.60" height="37.10" fill="#fff" stroke="#2a2aff" stroke-width="1.1"/>
<line x1="265.60" y1="759.30" x2="270.00" y2="759.30" stroke="#ff3a3a" stroke-width="1.1" />
<line x1="297.95" y1="658.40" x2="297.95" y2="661.50" stroke="#333" stroke-width="1.0" />
<line x1="297.95" y1="678.50" x2="297.95" y2="680.20" stroke="#333" stroke-width="1.0" />
<line x1="296.55" y1="658.40" x2="299.35" y2="658.40" stroke="#333" stroke-width="1.1" />
<line x1="296.55" y1="680.20" x2="299.35" y2="680.20" stroke="#333" stroke-width="1.1" />
<rect x="296.00" y="661.50" width="3.90" height="17.00" fill="#fff" stroke="#2a2aff" stroke-width="1.1"/>
<line x1="296.10" y1="671.40" x2="299.80" y2="671.40" stroke="#ff3a3a" stroke-width="1.1" />
<line x1="304.10" y1="655.40" x2="304.10" y2="657.10" stroke="#333" stroke-width="1.0" />
<line x1="304.10" y1="668.40" x2="304.10" y2="670.10" stroke="#333" stroke-width="1.0" />
<line x1="302.70" y1="655.40" x2="305.50" y2="655.40" stroke="#333" stroke-width="1.1" />
<line x1="302.70" y1="670.10" x2="305.50" y2="670.10" stroke="#333" stroke-width="1.1" />
<rect x="302.20" y="657.10" width="3.80" height="11.30" fill="#fff" stroke="#2a2aff" stroke-width="1.1"/>
<line x1="302.30" y1="663.60" x2="305.90" y2="663.60" stroke="#ff3a3a" stroke-width="1.1" />
<line x1="316.10" y1="659.30" x2="316.10" y2="660.00" stroke="#555" stroke-width="1.0" />
<line x1="316.10" y1="669.30" x2="316.10" y2="670.00" stroke="#555" stroke-width="1.0" />
<line x1="314.70" y1="659.30" x2="317.50" y2="659.30" stroke="#555" stroke-width="1.1" />
<line x1="314.70" y1="670.00" x2="317.50" y2="670.00" stroke="#555" stroke-width="1.1" />
<rect x="314.20" y="660.00" width="3.80" height="9.30" fill="#fff" stroke="#5c5c5c" stroke-width="1.1"/>
<line x1="314.30" y1="664.50" x2="317.90" y2="664.50" stroke="#4a4a4a" stroke-width="1.1" />
<line x1="322.20" y1="662.30" x2="322.20" y2="664.10" stroke="#555" stroke-width="1.0" />
<line x1="322.20" y1="678.50" x2="322.20" y2="681.10" stroke="#555" stroke-width="1.0" />
<line x1="320.80" y1="662.30" x2="323.60" y2="662.30" stroke="#555" stroke-width="1.1" />
<line x1="320.80" y1="681.10" x2="323.60" y2="681.10" stroke="#555" stroke-width="1.1" />
<rect x="320.10" y="664.10" width="4.20" height="14.40" fill="#fff" stroke="#5c5c5c" stroke-width="1.1"/>
<line x1="320.20" y1="670.60" x2="324.20" y2="670.60" stroke="#4a4a4a" stroke-width="1.1" />
<line x1="334.40" y1="715.00" x2="334.40" y2="715.70" stroke="#555" stroke-width="1.0" />
<line x1="334.40" y1="725.50" x2="334.40" y2="727.40" stroke="#555" stroke-width="1.0" />
<line x1="333.00" y1="715.00" x2="335.80" y2="715.00" stroke="#555" stroke-width="1.1" />
<line x1="333.00" y1="727.40" x2="335.80" y2="727.40" stroke="#555" stroke-width="1.1" />
<rect x="332.70" y="715.70" width="3.40" height="9.80" fill="#fff" stroke="#5c5c5c" stroke-width="1.1"/>
<line x1="332.80" y1="721.30" x2="336.00" y2="721.30" stroke="#4a4a4a" stroke-width="1.1" />
<line x1="340.40" y1="725.50" x2="340.40" y2="730.50" stroke="#555" stroke-width="1.0" />
<line x1="340.40" y1="752.40" x2="340.40" y2="755.50" stroke="#555" stroke-width="1.0" />
<line x1="339.00" y1="725.50" x2="341.80" y2="725.50" stroke="#555" stroke-width="1.1" />
<line x1="339.00" y1="755.50" x2="341.80" y2="755.50" stroke="#555" stroke-width="1.1" />
<rect x="338.70" y="730.50" width="3.40" height="21.90" fill="#fff" stroke="#5c5c5c" stroke-width="1.1"/>
<line x1="338.80" y1="744.50" x2="342.00" y2="744.50" stroke="#4a4a4a" stroke-width="1.1" />
<line x1="370.75" y1="657.50" x2="370.75" y2="660.30" stroke="#555" stroke-width="1.0" />
<line x1="370.75" y1="676.60" x2="370.75" y2="678.60" stroke="#555" stroke-width="1.0" />
<line x1="369.35" y1="657.50" x2="372.15" y2="657.50" stroke="#555" stroke-width="1.1" />
<line x1="369.35" y1="678.60" x2="372.15" y2="678.60" stroke="#555" stroke-width="1.1" />
<rect x="368.70" y="660.30" width="4.10" height="16.30" fill="#fff" stroke="#5c5c5c" stroke-width="1.1"/>
<line x1="368.80" y1="669.50" x2="372.70" y2="669.50" stroke="#4a4a4a" stroke-width="1.1" />
<line x1="376.95" y1="656.60" x2="376.95" y2="657.80" stroke="#555" stroke-width="1.0" />
<line x1="376.95" y1="669.80" x2="376.95" y2="672.50" stroke="#555" stroke-width="1.0" />
<line x1="375.55" y1="656.60" x2="378.35" y2="656.60" stroke="#555" stroke-width="1.1" />
<line x1="375.55" y1="672.50" x2="378.35" y2="672.50" stroke="#555" stroke-width="1.1" />
<rect x="375.00" y="657.80" width="3.90" height="12.00" fill="#fff" stroke="#5c5c5c" stroke-width="1.1"/>
<line x1="375.10" y1="663.70" x2="378.80" y2="663.70" stroke="#4a4a4a" stroke-width="1.1" />
<line x1="389.05" y1="657.80" x2="389.05" y2="659.30" stroke="#555" stroke-width="1.0" />
<line x1="389.05" y1="667.30" x2="389.05" y2="669.20" stroke="#555" stroke-width="1.0" />
<line x1="387.65" y1="657.80" x2="390.45" y2="657.80" stroke="#555" stroke-width="1.1" />
<line x1="387.65" y1="669.20" x2="390.45" y2="669.20" stroke="#555" stroke-width="1.1" />
<rect x="387.00" y="659.30" width="4.10" height="8.00" fill="#fff" stroke="#5c5c5c" stroke-width="1.1"/>
<line x1="387.10" y1="663.40" x2="391.00" y2="663.40" stroke="#4a4a4a" stroke-width="1.1" />
<line x1="395.10" y1="657.40" x2="395.10" y2="660.00" stroke="#555" stroke-width="1.0" />
<line x1="395.10" y1="677.60" x2="395.10" y2="680.50" stroke="#555" stroke-width="1.0" />
<line x1="393.70" y1="657.40" x2="396.50" y2="657.40" stroke="#555" stroke-width="1.1" />
<line x1="393.70" y1="680.50" x2="396.50" y2="680.50" stroke="#555" stroke-width="1.1" />
<rect x="393.10" y="660.00" width="4.00" height="17.60" fill="#fff" stroke="#5c5c5c" stroke-width="1.1"/>
<line x1="393.20" y1="668.80" x2="397.00" y2="668.80" stroke="#4a4a4a" stroke-width="1.1" />
<line x1="407.40" y1="702.20" x2="407.40" y2="706.10" stroke="#555" stroke-width="1.0" />
<line x1="407.40" y1="724.90" x2="407.40" y2="726.30" stroke="#555" stroke-width="1.0" />
<line x1="406.00" y1="702.20" x2="408.80" y2="702.20" stroke="#555" stroke-width="1.1" />
<line x1="406.00" y1="726.30" x2="408.80" y2="726.30" stroke="#555" stroke-width="1.1" />
<rect x="405.70" y="706.10" width="3.40" height="18.80" fill="#fff" stroke="#5c5c5c" stroke-width="1.1"/>
<line x1="405.80" y1="719.60" x2="409.00" y2="719.60" stroke="#4a4a4a" stroke-width="1.1" />
<line x1="413.50" y1="705.80" x2="413.50" y2="711.70" stroke="#555" stroke-width="1.0" />
<line x1="413.50" y1="746.40" x2="413.50" y2="751.50" stroke="#555" stroke-width="1.0" />
<line x1="412.10" y1="705.80" x2="414.90" y2="705.80" stroke="#555" stroke-width="1.1" />
<line x1="412.10" y1="751.50" x2="414.90" y2="751.50" stroke="#555" stroke-width="1.1" />
<rect x="411.80" y="711.70" width="3.40" height="34.70" fill="#fff" stroke="#5c5c5c" stroke-width="1.1"/>
<line x1="411.90" y1="728.80" x2="415.10" y2="728.80" stroke="#4a4a4a" stroke-width="1.1" />
<line x1="444.05" y1="661.80" x2="444.05" y2="663.40" stroke="#333" stroke-width="1.0" />
<line x1="444.05" y1="743.30" x2="444.05" y2="768.00" stroke="#333" stroke-width="1.0" />
<line x1="442.65" y1="661.80" x2="445.45" y2="661.80" stroke="#333" stroke-width="1.1" />
<line x1="442.65" y1="768.00" x2="445.45" y2="768.00" stroke="#333" stroke-width="1.1" />
<rect x="441.90" y="663.40" width="4.30" height="79.90" fill="#fff" stroke="#2a2aff" stroke-width="1.1"/>
<line x1="442.00" y1="669.70" x2="446.10" y2="669.70" stroke="#ff3a3a" stroke-width="1.1" />
<line x1="449.90" y1="653.60" x2="449.90" y2="655.50" stroke="#333" stroke-width="1.0" />
<line x1="449.90" y1="666.20" x2="449.90" y2="667.30" stroke="#333" stroke-width="1.0" />
<line x1="448.50" y1="653.60" x2="451.30" y2="653.60" stroke="#333" stroke-width="1.1" />
<line x1="448.50" y1="667.30" x2="451.30" y2="667.30" stroke="#333" stroke-width="1.1" />
<rect x="447.80" y="655.50" width="4.20" height="10.70" fill="#fff" stroke="#2a2aff" stroke-width="1.1"/>
<line x1="447.90" y1="661.80" x2="451.90" y2="661.80" stroke="#ff3a3a" stroke-width="1.1" />
<line x1="461.95" y1="670.20" x2="461.95" y2="673.60" stroke="#555" stroke-width="1.0" />
<line x1="461.95" y1="747.40" x2="461.95" y2="768.00" stroke="#555" stroke-width="1.0" />
<line x1="460.55" y1="670.20" x2="463.35" y2="670.20" stroke="#555" stroke-width="1.1" />
<line x1="460.55" y1="768.00" x2="463.35" y2="768.00" stroke="#555" stroke-width="1.1" />
<rect x="460.10" y="673.60" width="3.70" height="73.80" fill="#fff" stroke="#5c5c5c" stroke-width="1.1"/>
<line x1="460.20" y1="685.50" x2="463.70" y2="685.50" stroke="#4a4a4a" stroke-width="1.1" />
<line x1="468.25" y1="664.60" x2="468.25" y2="666.50" stroke="#555" stroke-width="1.0" />
<line x1="468.25" y1="682.60" x2="468.25" y2="684.70" stroke="#555" stroke-width="1.0" />
<line x1="466.85" y1="664.60" x2="469.65" y2="664.60" stroke="#555" stroke-width="1.1" />
<line x1="466.85" y1="684.70" x2="469.65" y2="684.70" stroke="#555" stroke-width="1.1" />
<rect x="466.40" y="666.50" width="3.70" height="16.10" fill="#fff" stroke="#5c5c5c" stroke-width="1.1"/>
<line x1="466.50" y1="674.40" x2="470.00" y2="674.40" stroke="#4a4a4a" stroke-width="1.1" />
<line x1="479.50" y1="726.50" x2="479.50" y2="733.20" stroke="#333" stroke-width="1.0" />
<line x1="479.50" y1="782.30" x2="479.50" y2="791.50" stroke="#333" stroke-width="1.0" />
<line x1="478.10" y1="726.50" x2="480.90" y2="726.50" stroke="#333" stroke-width="1.1" />
<line x1="478.10" y1="791.50" x2="480.90" y2="791.50" stroke="#333" stroke-width="1.1" />
<rect x="477.50" y="733.20" width="4.00" height="49.10" fill="#fff" stroke="#2a2aff" stroke-width="1.1"/>
<line x1="477.60" y1="754.40" x2="481.40" y2="754.40" stroke="#ff3a3a" stroke-width="1.1" />
<line x1="485.45" y1="706.00" x2="485.45" y2="710.20" stroke="#333" stroke-width="1.0" />
<line x1="485.45" y1="739.60" x2="485.45" y2="744.60" stroke="#333" stroke-width="1.0" />
<line x1="484.05" y1="706.00" x2="486.85" y2="706.00" stroke="#333" stroke-width="1.1" />
<line x1="484.05" y1="744.60" x2="486.85" y2="744.60" stroke="#333" stroke-width="1.1" />
<rect x="483.40" y="710.20" width="4.10" height="29.40" fill="#fff" stroke="#2a2aff" stroke-width="1.1"/>
<line x1="483.50" y1="723.30" x2="487.40" y2="723.30" stroke="#ff3a3a" stroke-width="1.1" />
<line x1="516.95" y1="660.70" x2="516.95" y2="662.60" stroke="#555" stroke-width="1.0" />
<line x1="516.95" y1="747.60" x2="516.95" y2="773.40" stroke="#555" stroke-width="1.0" />
<line x1="515.55" y1="660.70" x2="518.35" y2="660.70" stroke="#555" stroke-width="1.1" />
<line x1="515.55" y1="773.40" x2="518.35" y2="773.40" stroke="#555" stroke-width="1.1" />
<rect x="514.90" y="662.60" width="4.10" height="85.00" fill="#fff" stroke="#5c5c5c" stroke-width="1.1"/>
<line x1="515.00" y1="669.70" x2="518.90" y2="669.70" stroke="#4a4a4a" stroke-width="1.1" />
<line x1="522.95" y1="656.80" x2="522.95" y2="657.90" stroke="#555" stroke-width="1.0" />
<line x1="522.95" y1="668.10" x2="522.95" y2="670.50" stroke="#555" stroke-width="1.0" />
<line x1="521.55" y1="656.80" x2="524.35" y2="656.80" stroke="#555" stroke-width="1.1" />
<line x1="521.55" y1="670.50" x2="524.35" y2="670.50" stroke="#555" stroke-width="1.1" />
<rect x="520.90" y="657.90" width="4.10" height="10.20" fill="#fff" stroke="#5c5c5c" stroke-width="1.1"/>
<line x1="521.00" y1="661.30" x2="524.90" y2="661.30" stroke="#4a4a4a" stroke-width="1.1" />
<line x1="534.95" y1="670.20" x2="534.95" y2="673.60" stroke="#333" stroke-width="1.0" />
<line x1="534.95" y1="746.30" x2="534.95" y2="766.80" stroke="#333" stroke-width="1.0" />
<line x1="533.55" y1="670.20" x2="536.35" y2="670.20" stroke="#333" stroke-width="1.1" />
<line x1="533.55" y1="766.80" x2="536.35" y2="766.80" stroke="#333" stroke-width="1.1" />
<rect x="532.80" y="673.60" width="4.30" height="72.70" fill="#fff" stroke="#2a2aff" stroke-width="1.1"/>
<line x1="532.90" y1="685.10" x2="537.00" y2="685.10" stroke="#ff3a3a" stroke-width="1.1" />
<line x1="541.10" y1="659.40" x2="541.10" y2="662.30" stroke="#333" stroke-width="1.0" />
<line x1="541.10" y1="677.60" x2="541.10" y2="680.00" stroke="#333" stroke-width="1.0" />
<line x1="539.70" y1="659.40" x2="542.50" y2="659.40" stroke="#333" stroke-width="1.1" />
<line x1="539.70" y1="680.00" x2="542.50" y2="680.00" stroke="#333" stroke-width="1.1" />
<rect x="539.10" y="662.30" width="4.00" height="15.30" fill="#fff" stroke="#2a2aff" stroke-width="1.1"/>
<line x1="539.20" y1="670.50" x2="543.00" y2="670.50" stroke="#ff3a3a" stroke-width="1.1" />
<line x1="553.25" y1="731.20" x2="553.25" y2="736.40" stroke="#333" stroke-width="1.0" />
<line x1="553.25" y1="785.10" x2="553.25" y2="796.30" stroke="#333" stroke-width="1.0" />
<line x1="551.85" y1="731.20" x2="554.65" y2="731.20" stroke="#333" stroke-width="1.1" />
<line x1="551.85" y1="796.30" x2="554.65" y2="796.30" stroke="#333" stroke-width="1.1" />
<rect x="551.20" y="736.40" width="4.10" height="48.70" fill="#fff" stroke="#2a2aff" stroke-width="1.1"/>
<line x1="551.30" y1="752.60" x2="555.20" y2="752.60" stroke="#ff3a3a" stroke-width="1.1" />
<line x1="559.20" y1="708.60" x2="559.20" y2="715.40" stroke="#333" stroke-width="1.0" />
<line x1="559.20" y1="746.20" x2="559.20" y2="750.50" stroke="#333" stroke-width="1.0" />
<line x1="557.80" y1="708.60" x2="560.60" y2="708.60" stroke="#333" stroke-width="1.1" />
<line x1="557.80" y1="750.50" x2="560.60" y2="750.50" stroke="#333" stroke-width="1.1" />
<rect x="557.10" y="715.40" width="4.20" height="30.80" fill="#fff" stroke="#2a2aff" stroke-width="1.1"/>
<line x1="557.20" y1="734.40" x2="561.20" y2="734.40" stroke="#ff3a3a" stroke-width="1.1" />
<line x1="82.40" y1="628.35" x2="82.40" y2="633.75" stroke="#111" stroke-width="1.0" />
<line x1="80.05" y1="629.85" x2="84.75" y2="632.25" stroke="#222" stroke-width="0.8" />
<line x1="80.05" y1="632.25" x2="84.75" y2="629.85" stroke="#222" stroke-width="0.8" />
<line x1="82.40" y1="635.25" x2="82.40" y2="640.65" stroke="#111" stroke-width="1.0" />
<line x1="80.05" y1="636.75" x2="84.75" y2="639.15" stroke="#222" stroke-width="0.8" />
<line x1="80.05" y1="639.15" x2="84.75" y2="636.75" stroke="#222" stroke-width="0.8" />
<line x1="82.40" y1="642.15" x2="82.40" y2="647.55" stroke="#111" stroke-width="1.0" />
<line x1="80.05" y1="643.65" x2="84.75" y2="646.05" stroke="#222" stroke-width="0.8" />
<line x1="80.05" y1="646.05" x2="84.75" y2="643.65" stroke="#222" stroke-width="0.8" />
<line x1="99.50" y1="642.40" x2="99.50" y2="647.80" stroke="#111" stroke-width="1.0" />
<line x1="97.15" y1="643.90" x2="101.85" y2="646.30" stroke="#222" stroke-width="0.8" />
<line x1="97.15" y1="646.30" x2="101.85" y2="643.90" stroke="#222" stroke-width="0.8" />
<line x1="99.50" y1="649.30" x2="99.50" y2="654.70" stroke="#111" stroke-width="1.0" />
<line x1="97.15" y1="650.80" x2="101.85" y2="653.20" stroke="#222" stroke-width="0.8" />
<line x1="97.15" y1="653.20" x2="101.85" y2="650.80" stroke="#222" stroke-width="0.8" />
<line x1="117.50" y1="694.60" x2="117.50" y2="700.00" stroke="#111" stroke-width="1.0" />
<line x1="115.15" y1="696.10" x2="119.85" y2="698.50" stroke="#222" stroke-width="0.8" />
<line x1="115.15" y1="698.50" x2="119.85" y2="696.10" stroke="#222" stroke-width="0.8" />
<line x1="155.80" y1="627.75" x2="155.80" y2="633.15" stroke="#111" stroke-width="1.0" />
<line x1="153.45" y1="629.25" x2="158.15" y2="631.65" stroke="#222" stroke-width="0.8" />
<line x1="153.45" y1="631.65" x2="158.15" y2="629.25" stroke="#222" stroke-width="0.8" />
<line x1="155.80" y1="634.65" x2="155.80" y2="640.05" stroke="#111" stroke-width="1.0" />
<line x1="153.45" y1="636.15" x2="158.15" y2="638.55" stroke="#222" stroke-width="0.8" />
<line x1="153.45" y1="638.55" x2="158.15" y2="636.15" stroke="#222" stroke-width="0.8" />
<line x1="155.80" y1="641.55" x2="155.80" y2="646.95" stroke="#111" stroke-width="1.0" />
<line x1="153.45" y1="643.05" x2="158.15" y2="645.45" stroke="#222" stroke-width="0.8" />
<line x1="153.45" y1="645.45" x2="158.15" y2="643.05" stroke="#222" stroke-width="0.8" />
<line x1="192.80" y1="685.70" x2="192.80" y2="691.10" stroke="#111" stroke-width="1.0" />
<line x1="190.45" y1="687.20" x2="195.15" y2="689.60" stroke="#222" stroke-width="0.8" />
<line x1="190.45" y1="689.60" x2="195.15" y2="687.20" stroke="#222" stroke-width="0.8" />
<line x1="192.80" y1="692.60" x2="192.80" y2="698.00" stroke="#111" stroke-width="1.0" />
<line x1="190.45" y1="694.10" x2="195.15" y2="696.50" stroke="#222" stroke-width="0.8" />
<line x1="190.45" y1="696.50" x2="195.15" y2="694.10" stroke="#222" stroke-width="0.8" />
<line x1="192.80" y1="699.50" x2="192.80" y2="704.90" stroke="#111" stroke-width="1.0" />
<line x1="190.45" y1="701.00" x2="195.15" y2="703.40" stroke="#222" stroke-width="0.8" />
<line x1="190.45" y1="703.40" x2="195.15" y2="701.00" stroke="#222" stroke-width="0.8" />
<line x1="246.90" y1="636.40" x2="246.90" y2="641.80" stroke="#111" stroke-width="1.0" />
<line x1="244.55" y1="637.90" x2="249.25" y2="640.30" stroke="#222" stroke-width="0.8" />
<line x1="244.55" y1="640.30" x2="249.25" y2="637.90" stroke="#222" stroke-width="0.8" />
<line x1="246.90" y1="643.30" x2="246.90" y2="648.70" stroke="#111" stroke-width="1.0" />
<line x1="244.55" y1="644.80" x2="249.25" y2="647.20" stroke="#222" stroke-width="0.8" />
<line x1="244.55" y1="647.20" x2="249.25" y2="644.80" stroke="#222" stroke-width="0.8" />
<line x1="246.90" y1="650.20" x2="246.90" y2="655.60" stroke="#111" stroke-width="1.0" />
<line x1="244.55" y1="651.70" x2="249.25" y2="654.10" stroke="#222" stroke-width="0.8" />
<line x1="244.55" y1="654.10" x2="249.25" y2="651.70" stroke="#222" stroke-width="0.8" />
<line x1="265.50" y1="680.60" x2="265.50" y2="686.00" stroke="#111" stroke-width="1.0" />
<line x1="263.15" y1="682.10" x2="267.85" y2="684.50" stroke="#222" stroke-width="0.8" />
<line x1="263.15" y1="684.50" x2="267.85" y2="682.10" stroke="#222" stroke-width="0.8" />
<line x1="265.50" y1="687.50" x2="265.50" y2="692.90" stroke="#111" stroke-width="1.0" />
<line x1="263.15" y1="689.00" x2="267.85" y2="691.40" stroke="#222" stroke-width="0.8" />
<line x1="263.15" y1="691.40" x2="267.85" y2="689.00" stroke="#222" stroke-width="0.8" />
<line x1="265.50" y1="694.40" x2="265.50" y2="699.80" stroke="#111" stroke-width="1.0" />
<line x1="263.15" y1="695.90" x2="267.85" y2="698.30" stroke="#222" stroke-width="0.8" />
<line x1="263.15" y1="698.30" x2="267.85" y2="695.90" stroke="#222" stroke-width="0.8" />
<line x1="300.00" y1="640.45" x2="300.00" y2="645.85" stroke="#111" stroke-width="1.0" />
<line x1="297.65" y1="641.95" x2="302.35" y2="644.35" stroke="#222" stroke-width="0.8" />
<line x1="297.65" y1="644.35" x2="302.35" y2="641.95" stroke="#222" stroke-width="0.8" />
<line x1="300.00" y1="647.35" x2="300.00" y2="652.75" stroke="#111" stroke-width="1.0" />
<line x1="297.65" y1="648.85" x2="302.35" y2="651.25" stroke="#222" stroke-width="0.8" />
<line x1="297.65" y1="651.25" x2="302.35" y2="648.85" stroke="#222" stroke-width="0.8" />
<line x1="445.40" y1="638.85" x2="445.40" y2="644.25" stroke="#111" stroke-width="1.0" />
<line x1="443.05" y1="640.35" x2="447.75" y2="642.75" stroke="#222" stroke-width="0.8" />
<line x1="443.05" y1="642.75" x2="447.75" y2="640.35" stroke="#222" stroke-width="0.8" />
<line x1="445.40" y1="645.75" x2="445.40" y2="651.15" stroke="#111" stroke-width="1.0" />
<line x1="443.05" y1="647.25" x2="447.75" y2="649.65" stroke="#222" stroke-width="0.8" />
<line x1="443.05" y1="649.65" x2="447.75" y2="647.25" stroke="#222" stroke-width="0.8" />
<line x1="480.90" y1="691.75" x2="480.90" y2="697.15" stroke="#111" stroke-width="1.0" />
<line x1="478.55" y1="693.25" x2="483.25" y2="695.65" stroke="#222" stroke-width="0.8" />
<line x1="478.55" y1="695.65" x2="483.25" y2="693.25" stroke="#222" stroke-width="0.8" />
<line x1="480.90" y1="698.65" x2="480.90" y2="704.05" stroke="#111" stroke-width="1.0" />
<line x1="478.55" y1="700.15" x2="483.25" y2="702.55" stroke="#222" stroke-width="0.8" />
<line x1="478.55" y1="702.55" x2="483.25" y2="700.15" stroke="#222" stroke-width="0.8" />
<line x1="538.10" y1="645.60" x2="538.10" y2="651.00" stroke="#111" stroke-width="1.0" />
<line x1="535.75" y1="647.10" x2="540.45" y2="649.50" stroke="#222" stroke-width="0.8" />
<line x1="535.75" y1="649.50" x2="540.45" y2="647.10" stroke="#222" stroke-width="0.8" />
<line x1="538.10" y1="652.50" x2="538.10" y2="657.90" stroke="#111" stroke-width="1.0" />
<line x1="535.75" y1="654.00" x2="540.45" y2="656.40" stroke="#222" stroke-width="0.8" />
<line x1="535.75" y1="656.40" x2="540.45" y2="654.00" stroke="#222" stroke-width="0.8" />
<line x1="555.50" y1="694.50" x2="555.50" y2="699.90" stroke="#111" stroke-width="1.0" />
<line x1="553.15" y1="696.00" x2="557.85" y2="698.40" stroke="#222" stroke-width="0.8" />
<line x1="553.15" y1="698.40" x2="557.85" y2="696.00" stroke="#222" stroke-width="0.8" />
<line x1="555.50" y1="701.40" x2="555.50" y2="706.80" stroke="#111" stroke-width="1.0" />
<line x1="553.15" y1="702.90" x2="557.85" y2="705.30" stroke="#222" stroke-width="0.8" />
<line x1="553.15" y1="705.30" x2="557.85" y2="702.90" stroke="#222" stroke-width="0.8" />
<text transform="translate(66.60,261.70) rotate(-90)" class="xl"><tspan class="it">RR</tspan><tspan>(35)</tspan></text>
<text transform="translate(84.70,261.70) rotate(-90)" class="xl"><tspan class="it">LF</tspan><tspan>(35)</tspan></text>
<text transform="translate(102.60,261.70) rotate(-90)" class="xl"><tspan class="it">HF</tspan><tspan>(35)</tspan></text>
<text transform="translate(120.80,261.70) rotate(-90)" class="xl"><tspan class="it">SCHF</tspan><tspan>(12)</tspan></text>
<text transform="translate(139.80,261.70) rotate(-90)" class="xl"><tspan class="it">RR</tspan><tspan>(43)</tspan></text>
<text transform="translate(158.00,261.70) rotate(-90)" class="xl"><tspan class="it">LF</tspan><tspan>(43)</tspan></text>
<text transform="translate(175.80,261.70) rotate(-90)" class="xl"><tspan class="it">HF</tspan><tspan>(43)</tspan></text>
<text transform="translate(193.80,261.70) rotate(-90)" class="xl"><tspan class="it">SCHF</tspan><tspan>(33)</tspan></text>
<text transform="translate(212.30,261.70) rotate(-90)" class="xl"><tspan class="it">RR</tspan><tspan>(35)</tspan></text>
<text transform="translate(230.50,261.70) rotate(-90)" class="xl"><tspan class="it">LF</tspan><tspan>(35)</tspan></text>
<text transform="translate(248.40,261.70) rotate(-90)" class="xl"><tspan class="it">HF</tspan><tspan>(35)</tspan></text>
<text transform="translate(266.60,261.70) rotate(-90)" class="xl"><tspan class="it">SCHF</tspan><tspan>(13)</tspan></text>
<text transform="translate(284.60,261.70) rotate(-90)" class="xl"><tspan class="it">RR</tspan><tspan>(25)</tspan></text>
<text transform="translate(302.80,261.70) rotate(-90)" class="xl"><tspan class="it">LF</tspan><tspan>(25)</tspan></text>
<text transform="translate(320.80,261.70) rotate(-90)" class="xl"><tspan class="it">HF</tspan><tspan>(25)</tspan></text>
<text transform="translate(339.00,261.70) rotate(-90)" class="xl"><tspan class="it">SCHF</tspan><tspan> (9)</tspan></text>
<text transform="translate(357.60,261.70) rotate(-90)" class="xl"><tspan class="it">RR</tspan><tspan>(29)</tspan></text>
<text transform="translate(375.60,261.70) rotate(-90)" class="xl"><tspan class="it">LF</tspan><tspan>(29)</tspan></text>
<text transform="translate(393.60,261.70) rotate(-90)" class="xl"><tspan class="it">HF</tspan><tspan>(29)</tspan></text>
<text transform="translate(411.70,261.70) rotate(-90)" class="xl"><tspan class="it">SCHF</tspan><tspan>(11)</tspan></text>
<text transform="translate(430.60,261.70) rotate(-90)" class="xl"><tspan class="it">RR</tspan><tspan>(31)</tspan></text>
<text transform="translate(448.60,261.70) rotate(-90)" class="xl"><tspan class="it">LF</tspan><tspan>(31)</tspan></text>
<text transform="translate(466.40,261.70) rotate(-90)" class="xl"><tspan class="it">HF</tspan><tspan>(31)</tspan></text>
<text transform="translate(484.60,261.70) rotate(-90)" class="xl"><tspan class="it">SCHF</tspan><tspan>(22)</tspan></text>
<text transform="translate(504.60,261.70) rotate(-90)" class="xl"><tspan class="it">RR</tspan><tspan>(35)</tspan></text>
<text transform="translate(522.50,261.70) rotate(-90)" class="xl"><tspan class="it">LF</tspan><tspan>(35)</tspan></text>
<text transform="translate(540.60,261.70) rotate(-90)" class="xl"><tspan class="it">HF</tspan><tspan>(35)</tspan></text>
<text transform="translate(558.70,261.70) rotate(-90)" class="xl"><tspan class="it">SCHF</tspan><tspan>(26)</tspan></text>
<text transform="translate(66.60,547.70) rotate(-90)" class="xl"><tspan class="it">RR</tspan><tspan dx="1.6">(35)</tspan></text>
<text transform="translate(139.80,547.70) rotate(-90)" class="xl"><tspan class="it">RR</tspan><tspan dx="1.6">(43)</tspan></text>
<text transform="translate(212.30,547.70) rotate(-90)" class="xl"><tspan class="it">RR</tspan><tspan dx="1.6">(35)</tspan></text>
<text transform="translate(284.60,547.70) rotate(-90)" class="xl"><tspan class="it">RR</tspan><tspan dx="1.6">(25)</tspan></text>
<text transform="translate(357.60,547.70) rotate(-90)" class="xl"><tspan class="it">RR</tspan><tspan dx="1.6">(29)</tspan></text>
<text transform="translate(430.60,547.70) rotate(-90)" class="xl"><tspan class="it">RR</tspan><tspan dx="1.6">(31)</tspan></text>
<text transform="translate(504.60,547.70) rotate(-90)" class="xl"><tspan class="it">RR</tspan><tspan dx="1.6">(35)</tspan></text>
<text transform="translate(84.70,819.70) rotate(-90)" class="xl"><tspan class="it">LF</tspan><tspan>(35)</tspan></text>
<text transform="translate(102.60,819.70) rotate(-90)" class="xl"><tspan class="it">HF</tspan><tspan>(35)</tspan></text>
<text transform="translate(120.80,819.70) rotate(-90)" class="xl"><tspan class="it">SCHF</tspan><tspan>(12)</tspan></text>
<text transform="translate(158.00,819.70) rotate(-90)" class="xl"><tspan class="it">LF</tspan><tspan>(43)</tspan></text>
<text transform="translate(175.80,819.70) rotate(-90)" class="xl"><tspan class="it">HF</tspan><tspan>(43)</tspan></text>
<text transform="translate(193.80,819.70) rotate(-90)" class="xl"><tspan class="it">SCHF</tspan><tspan>(33)</tspan></text>
<text transform="translate(230.50,819.70) rotate(-90)" class="xl"><tspan class="it">LF</tspan><tspan>(35)</tspan></text>
<text transform="translate(248.40,819.70) rotate(-90)" class="xl"><tspan class="it">HF</tspan><tspan>(35)</tspan></text>
<text transform="translate(266.60,819.70) rotate(-90)" class="xl"><tspan class="it">SCHF</tspan><tspan>(13)</tspan></text>
<text transform="translate(302.80,819.70) rotate(-90)" class="xl"><tspan class="it">LF</tspan><tspan>(25)</tspan></text>
<text transform="translate(320.80,819.70) rotate(-90)" class="xl"><tspan class="it">HF</tspan><tspan>(25)</tspan></text>
<text transform="translate(339.00,819.70) rotate(-90)" class="xl"><tspan class="it">SCHF</tspan><tspan> (9)</tspan></text>
<text transform="translate(375.60,819.70) rotate(-90)" class="xl"><tspan class="it">LF</tspan><tspan>(29)</tspan></text>
<text transform="translate(393.60,819.70) rotate(-90)" class="xl"><tspan class="it">HF</tspan><tspan>(29)</tspan></text>
<text transform="translate(411.70,819.70) rotate(-90)" class="xl"><tspan class="it">SCHF</tspan><tspan>(11)</tspan></text>
<text transform="translate(448.60,819.70) rotate(-90)" class="xl"><tspan class="it">LF</tspan><tspan>(31)</tspan></text>
<text transform="translate(466.40,819.70) rotate(-90)" class="xl"><tspan class="it">HF</tspan><tspan>(31)</tspan></text>
<text transform="translate(484.60,819.70) rotate(-90)" class="xl"><tspan class="it">SCHF</tspan><tspan>(22)</tspan></text>
<text transform="translate(522.50,819.70) rotate(-90)" class="xl"><tspan class="it">LF</tspan><tspan>(35)</tspan></text>
<text transform="translate(540.60,819.70) rotate(-90)" class="xl"><tspan class="it">HF</tspan><tspan>(35)</tspan></text>
<text transform="translate(558.70,819.70) rotate(-90)" class="xl"><tspan class="it">SCHF</tspan><tspan>(26)</tspan></text>
<text x="1.2" y="133.2" class="lab">(a)</text>
<text x="0.6" y="418.6" class="lab">(b)</text>
<text x="1.6" y="688.0" class="lab">(c)</text>
<text transform="translate(33.90,163.30) rotate(-90)" font-size="14" font-style="italic" textLength="8.40" lengthAdjust="spacingAndGlyphs">A</text>
<text transform="translate(36.20,154.30) rotate(-90)" font-size="8.5" font-style="italic" textLength="5.80" lengthAdjust="spacingAndGlyphs">T</text>
<text transform="translate(38.00,149.90) rotate(-90)" font-size="6.5" font-style="italic" textLength="4.00" lengthAdjust="spacingAndGlyphs">γ</text>
<text transform="translate(33.40,139.60) rotate(-90)" font-size="13" textLength="37.50" lengthAdjust="spacingAndGlyphs">(adim.)</text>
<text transform="translate(33.90,456.00) rotate(-90)" font-size="14" font-style="italic" textLength="17.80" lengthAdjust="spacingAndGlyphs">BD</text>
<text transform="translate(33.40,435.90) rotate(-90)" font-size="13" textLength="37.50" lengthAdjust="spacingAndGlyphs">(adim.)</text>
<text transform="translate(31.20,738.40) rotate(-90)" font-size="14" font-style="italic" textLength="17.20" lengthAdjust="spacingAndGlyphs">PD</text>
<text transform="translate(34.00,721.80) rotate(-90)" font-size="8.5" font-style="italic" textLength="6.40" lengthAdjust="spacingAndGlyphs">m</text>
<text transform="translate(36.40,715.90) rotate(-90)" font-size="6.5" font-style="italic" textLength="4.30" lengthAdjust="spacingAndGlyphs">δ</text>
<text transform="translate(31.90,705.00) rotate(-90)" font-size="13" textLength="37.60" lengthAdjust="spacingAndGlyphs">(adim.)</text>
<line x1="63.30" y1="878.00" x2="63.30" y2="883.00" stroke="#111" stroke-width="0.85" stroke-linecap="round"/>
<line x1="61.13" y1="879.25" x2="65.47" y2="881.75" stroke="#111" stroke-width="0.85" stroke-linecap="round"/>
<line x1="65.47" y1="879.25" x2="61.13" y2="881.75" stroke="#111" stroke-width="0.85" stroke-linecap="round"/>
<text x="70.50" y="884.6" class="ft" textLength="47.80" lengthAdjust="spacingAndGlyphs"><tspan class="it">p</tspan>-value</text>
<path d="M130.60,875.2 L122.70,878.75 L130.60,882.3" fill="none" stroke="#111" stroke-width="0.95"/>
<line x1="122.40" y1="885.30" x2="130.80" y2="885.30" stroke="#111" stroke-width="0.95" />
<text x="134.40" y="884.6" class="ft" textLength="26.20" lengthAdjust="spacingAndGlyphs">0.05</text>
<line x1="253.30" y1="878.00" x2="253.30" y2="883.00" stroke="#111" stroke-width="0.85" stroke-linecap="round"/>
<line x1="251.13" y1="879.25" x2="255.47" y2="881.75" stroke="#111" stroke-width="0.85" stroke-linecap="round"/>
<line x1="255.47" y1="879.25" x2="251.13" y2="881.75" stroke="#111" stroke-width="0.85" stroke-linecap="round"/>
<line x1="260.60" y1="878.00" x2="260.60" y2="883.00" stroke="#111" stroke-width="0.85" stroke-linecap="round"/>
<line x1="258.43" y1="879.25" x2="262.77" y2="881.75" stroke="#111" stroke-width="0.85" stroke-linecap="round"/>
<line x1="262.77" y1="879.25" x2="258.43" y2="881.75" stroke="#111" stroke-width="0.85" stroke-linecap="round"/>
<text x="268.20" y="884.6" class="ft" textLength="47.30" lengthAdjust="spacingAndGlyphs"><tspan class="it">p</tspan>-value</text>
<path d="M327.80,875.2 L319.90,878.75 L327.80,882.3" fill="none" stroke="#111" stroke-width="0.95"/>
<line x1="319.60" y1="885.30" x2="328.00" y2="885.30" stroke="#111" stroke-width="0.95" />
<text x="332.20" y="884.6" class="ft" textLength="24.90" lengthAdjust="spacingAndGlyphs">0.01</text>
<line x1="438.30" y1="878.00" x2="438.30" y2="883.00" stroke="#111" stroke-width="0.85" stroke-linecap="round"/>
<line x1="436.13" y1="879.25" x2="440.47" y2="881.75" stroke="#111" stroke-width="0.85" stroke-linecap="round"/>
<line x1="440.47" y1="879.25" x2="436.13" y2="881.75" stroke="#111" stroke-width="0.85" stroke-linecap="round"/>
<line x1="447.10" y1="878.00" x2="447.10" y2="883.00" stroke="#111" stroke-width="0.85" stroke-linecap="round"/>
<line x1="444.93" y1="879.25" x2="449.27" y2="881.75" stroke="#111" stroke-width="0.85" stroke-linecap="round"/>
<line x1="449.27" y1="879.25" x2="444.93" y2="881.75" stroke="#111" stroke-width="0.85" stroke-linecap="round"/>
<line x1="454.70" y1="878.00" x2="454.70" y2="883.00" stroke="#111" stroke-width="0.85" stroke-linecap="round"/>
<line x1="452.53" y1="879.25" x2="456.87" y2="881.75" stroke="#111" stroke-width="0.85" stroke-linecap="round"/>
<line x1="456.87" y1="879.25" x2="452.53" y2="881.75" stroke="#111" stroke-width="0.85" stroke-linecap="round"/>
<text x="462.30" y="884.6" class="ft" textLength="46.80" lengthAdjust="spacingAndGlyphs"><tspan class="it">p</tspan>-value</text>
<path d="M521.40,875.2 L513.50,878.75 L521.40,882.3" fill="none" stroke="#111" stroke-width="0.95"/>
<line x1="513.20" y1="885.30" x2="521.60" y2="885.30" stroke="#111" stroke-width="0.95" />
<text x="525.90" y="884.6" class="ft" textLength="33.50" lengthAdjust="spacingAndGlyphs">0.001</text>
</svg></body></html>
